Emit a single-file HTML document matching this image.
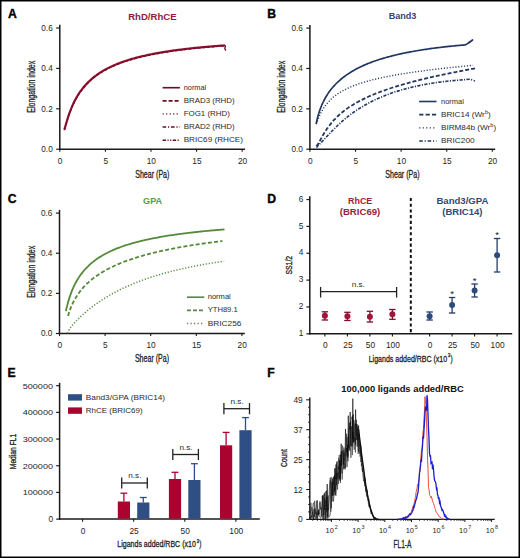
<!DOCTYPE html>
<html><head><meta charset="utf-8"><style>
html,body{margin:0;padding:0;background:#fff;}
body{width:520px;height:558px;overflow:hidden;}
svg{display:block;font-family:"Liberation Sans", sans-serif;}
</style></head><body>
<svg width="520" height="558" viewBox="0 0 520 558">
<rect x="0" y="0" width="520" height="558" fill="#000"/>
<rect x="1.5" y="1.5" width="517" height="555" fill="#fff"/>
<text x="7.9" y="17.8" font-size="12.2" font-weight="bold" fill="#000" stroke="#000" stroke-width="0.35">A</text>
<text x="152.4" y="19.7" font-size="9.6" text-anchor="middle" font-weight="bold" fill="#941a38" textLength="48.4" lengthAdjust="spacingAndGlyphs">RhD/RhCE</text>
<line x1="59.8" y1="24.8" x2="59.8" y2="149.9" stroke="#1a1a1a" stroke-width="1.5"/>
<line x1="59.1" y1="149.2" x2="245.1" y2="149.2" stroke="#1a1a1a" stroke-width="1.5"/>
<line x1="56.2" y1="149.2" x2="59.8" y2="149.2" stroke="#1a1a1a" stroke-width="1.2"/>
<text x="52.7" y="152.15" font-size="8.2" text-anchor="end" fill="#1e1e1e">0.0</text>
<line x1="56.2" y1="108.8" x2="59.8" y2="108.8" stroke="#1a1a1a" stroke-width="1.2"/>
<text x="52.7" y="111.75" font-size="8.2" text-anchor="end" fill="#1e1e1e">0.2</text>
<line x1="56.2" y1="68.4" x2="59.8" y2="68.4" stroke="#1a1a1a" stroke-width="1.2"/>
<text x="52.7" y="71.35" font-size="8.2" text-anchor="end" fill="#1e1e1e">0.4</text>
<line x1="56.2" y1="28" x2="59.8" y2="28" stroke="#1a1a1a" stroke-width="1.2"/>
<text x="52.7" y="30.95" font-size="8.2" text-anchor="end" fill="#1e1e1e">0.6</text>
<line x1="59.8" y1="149.2" x2="59.8" y2="151.8" stroke="#1a1a1a" stroke-width="1.1"/>
<text x="60.1" y="163.5" font-size="8.3" text-anchor="middle" fill="#1e1e1e">0</text>
<line x1="105.4" y1="149.2" x2="105.4" y2="151.8" stroke="#1a1a1a" stroke-width="1.1"/>
<text x="105.7" y="163.5" font-size="8.3" text-anchor="middle" fill="#1e1e1e">5</text>
<line x1="151" y1="149.2" x2="151" y2="151.8" stroke="#1a1a1a" stroke-width="1.1"/>
<text x="151.3" y="163.5" font-size="8.3" text-anchor="middle" fill="#1e1e1e">10</text>
<line x1="196.6" y1="149.2" x2="196.6" y2="151.8" stroke="#1a1a1a" stroke-width="1.1"/>
<text x="196.9" y="163.5" font-size="8.3" text-anchor="middle" fill="#1e1e1e">15</text>
<line x1="242.2" y1="149.2" x2="242.2" y2="151.8" stroke="#1a1a1a" stroke-width="1.1"/>
<text x="242.5" y="163.5" font-size="8.3" text-anchor="middle" fill="#1e1e1e">20</text>
<text x="135.2" y="177.9" font-size="10.1" stroke="#222" stroke-width="0.3" fill="#222" textLength="34.2" lengthAdjust="spacingAndGlyphs">Shear (Pa)</text>
<text transform="translate(35,112.7) rotate(-90)" font-size="10" stroke="#222" stroke-width="0.3" fill="#222" textLength="52" lengthAdjust="spacingAndGlyphs">Elongation index</text>
<path d="M64.5,129.15 C64.75,128.29 65.5,125.72 66,124.04 C66.5,122.35 67,120.63 67.5,119.04 C68,117.44 68.5,115.92 69,114.47 C69.5,113.03 70,111.66 70.5,110.36 C71,109.06 71.5,107.84 72,106.67 C72.5,105.5 73,104.39 73.5,103.34 C74,102.28 74.5,101.28 75,100.31 C75.5,99.35 76,98.44 76.5,97.56 C77,96.68 77.5,95.85 78,95.04 C78.5,94.23 79,93.46 79.5,92.72 C80,91.98 80.5,91.27 81,90.58 C81.5,89.89 82,89.23 82.5,88.59 C83,87.95 83.5,87.34 84,86.75 C84.5,86.15 85,85.58 85.5,85.02 C86,84.47 86.5,83.93 87,83.41 C87.5,82.89 88,82.38 88.5,81.89 C89,81.4 89.5,80.93 90,80.47 C90.5,80.01 91,79.56 91.5,79.13 C92,78.69 92.5,78.27 93,77.86 C93.5,77.45 94,77.05 94.5,76.66 C95,76.27 95.5,75.89 96,75.52 C96.5,75.15 97,74.79 97.5,74.43 C98,74.08 98.5,73.74 99,73.41 C99.5,73.07 100,72.74 100.5,72.42 C101,72.11 101.5,71.79 102,71.49 C102.5,71.18 103,70.89 103.5,70.6 C104,70.31 104.5,70.02 105,69.74 C105.5,69.46 106,69.19 106.5,68.92 C107,68.66 107.5,68.4 108,68.14 C108.5,67.89 109,67.64 109.5,67.39 C110,67.14 110.5,66.9 111,66.67 C111.5,66.43 112,66.2 112.5,65.97 C113,65.75 113.5,65.53 114,65.31 C114.5,65.09 115,64.88 115.5,64.67 C116,64.46 116.5,64.25 117,64.05 C117.5,63.84 118,63.65 118.5,63.45 C119,63.26 119.5,63.06 120,62.88 C120.5,62.69 121,62.5 121.5,62.32 C122,62.14 122.5,61.96 123,61.78 C123.5,61.61 124,61.43 124.5,61.26 C125,61.09 125.5,60.93 126,60.76 C126.5,60.6 127,60.44 127.5,60.28 C128,60.12 128.5,59.96 129,59.81 C129.5,59.65 130,59.5 130.5,59.35 C131,59.2 131.5,59.06 132,58.91 C132.5,58.77 133,58.63 133.5,58.49 C134,58.35 134.5,58.21 135,58.07 C135.5,57.93 136,57.8 136.5,57.67 C137,57.54 137.5,57.41 138,57.28 C138.5,57.15 139,57.02 139.5,56.9 C140,56.77 140.5,56.65 141,56.53 C141.5,56.41 142,56.29 142.5,56.17 C143,56.05 143.5,55.94 144,55.82 C144.5,55.71 145,55.6 145.5,55.48 C146,55.37 146.5,55.26 147,55.16 C147.5,55.05 148,54.94 148.5,54.83 C149,54.73 149.5,54.62 150,54.52 C150.5,54.42 151,54.32 151.5,54.22 C152,54.12 152.5,54.02 153,53.92 C153.5,53.82 154,53.73 154.5,53.63 C155,53.54 155.5,53.44 156,53.35 C156.5,53.26 157,53.17 157.5,53.08 C158,52.99 158.5,52.9 159,52.81 C159.5,52.72 160,52.63 160.5,52.55 C161,52.46 161.5,52.38 162,52.29 C162.5,52.21 163,52.13 163.5,52.04 C164,51.96 164.5,51.88 165,51.8 C165.5,51.72 166,51.64 166.5,51.56 C167,51.49 167.5,51.41 168,51.33 C168.5,51.26 169,51.18 169.5,51.11 C170,51.03 170.5,50.96 171,50.89 C171.5,50.81 172,50.74 172.5,50.67 C173,50.6 173.5,50.53 174,50.46 C174.5,50.39 175,50.32 175.5,50.25 C176,50.18 176.5,50.12 177,50.05 C177.5,49.98 178,49.92 178.5,49.85 C179,49.79 179.5,49.72 180,49.66 C180.5,49.6 181,49.53 181.5,49.47 C182,49.41 182.5,49.35 183,49.29 C183.5,49.22 184,49.16 184.5,49.1 C185,49.05 185.5,48.99 186,48.93 C186.5,48.87 187,48.81 187.5,48.75 C188,48.7 188.5,48.64 189,48.58 C189.5,48.53 190,48.47 190.5,48.42 C191,48.36 191.5,48.31 192,48.26 C192.5,48.2 193,48.15 193.5,48.1 C194,48.04 194.5,47.99 195,47.94 C195.5,47.89 196,47.84 196.5,47.79 C197,47.74 197.5,47.69 198,47.64 C198.5,47.59 199,47.54 199.5,47.49 C200,47.44 200.5,47.39 201,47.35 C201.5,47.3 202,47.25 202.5,47.2 C203,47.16 203.5,47.11 204,47.07 C204.5,47.02 205,46.98 205.5,46.93 C206,46.89 206.5,46.84 207,46.8 C207.5,46.75 208,46.71 208.5,46.67 C209,46.62 209.5,46.58 210,46.54 C210.5,46.5 211,46.45 211.5,46.41 C212,46.37 212.5,46.33 213,46.29 C213.5,46.25 214,46.21 214.5,46.17 C215,46.13 215.5,46.09 216,46.05 C216.5,46.01 217,45.97 217.5,45.93 C218,45.9 218.5,45.86 219,45.82 C219.5,45.78 220,45.74 220.5,45.71 C221,45.67 221.5,45.63 222,45.6 C222.5,45.56 223.2,45.51 223.5,45.49 C223.8,45.47 223.75,45.47 223.8,45.47" fill="none" stroke="#8f0f2f" stroke-width="2.2" stroke-linecap="round"/>
<path d="M64.5,129.65 C64.75,128.79 65.5,126.22 66,124.54 C66.5,122.85 67,121.13 67.5,119.54 C68,117.94 68.5,116.42 69,114.97 C69.5,113.53 70,112.16 70.5,110.86 C71,109.56 71.5,108.34 72,107.17 C72.5,106 73,104.89 73.5,103.84 C74,102.78 74.5,101.78 75,100.81 C75.5,99.85 76,98.94 76.5,98.06 C77,97.18 77.5,96.35 78,95.54 C78.5,94.73 79,93.96 79.5,93.22 C80,92.48 80.5,91.77 81,91.08 C81.5,90.39 82,89.73 82.5,89.09 C83,88.45 83.5,87.84 84,87.25 C84.5,86.65 85,86.08 85.5,85.52 C86,84.97 86.5,84.43 87,83.91 C87.5,83.39 88,82.88 88.5,82.39 C89,81.9 89.5,81.43 90,80.97 C90.5,80.51 91,80.06 91.5,79.63 C92,79.19 92.5,78.77 93,78.36 C93.5,77.95 94,77.55 94.5,77.16 C95,76.77 95.5,76.39 96,76.02 C96.5,75.65 97,75.29 97.5,74.93 C98,74.58 98.5,74.24 99,73.91 C99.5,73.57 100,73.24 100.5,72.92 C101,72.61 101.5,72.29 102,71.99 C102.5,71.68 103,71.39 103.5,71.1 C104,70.81 104.5,70.52 105,70.24 C105.5,69.96 106,69.69 106.5,69.42 C107,69.16 107.5,68.9 108,68.64 C108.5,68.39 109,68.14 109.5,67.89 C110,67.64 110.5,67.4 111,67.17 C111.5,66.93 112,66.7 112.5,66.47 C113,66.25 113.5,66.03 114,65.81 C114.5,65.59 115,65.38 115.5,65.17 C116,64.96 116.5,64.75 117,64.55 C117.5,64.34 118,64.15 118.5,63.95 C119,63.76 119.5,63.56 120,63.38 C120.5,63.19 121,63 121.5,62.82 C122,62.64 122.5,62.46 123,62.28 C123.5,62.11 124,61.93 124.5,61.76 C125,61.59 125.5,61.43 126,61.26 C126.5,61.1 127,60.94 127.5,60.78 C128,60.62 128.5,60.46 129,60.31 C129.5,60.15 130,60 130.5,59.85 C131,59.7 131.5,59.56 132,59.41 C132.5,59.27 133,59.13 133.5,58.99 C134,58.85 134.5,58.71 135,58.57 C135.5,58.43 136,58.3 136.5,58.17 C137,58.04 137.5,57.91 138,57.78 C138.5,57.65 139,57.52 139.5,57.4 C140,57.27 140.5,57.15 141,57.03 C141.5,56.91 142,56.79 142.5,56.67 C143,56.55 143.5,56.44 144,56.32 C144.5,56.21 145,56.1 145.5,55.98 C146,55.87 146.5,55.76 147,55.66 C147.5,55.55 148,55.44 148.5,55.33 C149,55.23 149.5,55.12 150,55.02 C150.5,54.92 151,54.82 151.5,54.72 C152,54.62 152.5,54.52 153,54.42 C153.5,54.32 154,54.23 154.5,54.13 C155,54.04 155.5,53.94 156,53.85 C156.5,53.76 157,53.67 157.5,53.58 C158,53.49 158.5,53.4 159,53.31 C159.5,53.22 160,53.13 160.5,53.05 C161,52.96 161.5,52.88 162,52.79 C162.5,52.71 163,52.63 163.5,52.54 C164,52.46 164.5,52.38 165,52.3 C165.5,52.22 166,52.14 166.5,52.06 C167,51.99 167.5,51.91 168,51.83 C168.5,51.76 169,51.68 169.5,51.61 C170,51.53 170.5,51.46 171,51.39 C171.5,51.31 172,51.24 172.5,51.17 C173,51.1 173.5,51.03 174,50.96 C174.5,50.89 175,50.82 175.5,50.75 C176,50.68 176.5,50.62 177,50.55 C177.5,50.48 178,50.42 178.5,50.35 C179,50.29 179.5,50.22 180,50.16 C180.5,50.1 181,50.03 181.5,49.97 C182,49.91 182.5,49.85 183,49.79 C183.5,49.72 184,49.66 184.5,49.6 C185,49.55 185.5,49.49 186,49.43 C186.5,49.37 187,49.31 187.5,49.25 C188,49.2 188.5,49.14 189,49.08 C189.5,49.03 190,48.97 190.5,48.92 C191,48.86 191.5,48.81 192,48.76 C192.5,48.7 193,48.65 193.5,48.6 C194,48.54 194.5,48.49 195,48.44 C195.5,48.39 196,48.34 196.5,48.29 C197,48.24 197.5,48.19 198,48.14 C198.5,48.09 199,48.04 199.5,47.99 C200,47.94 200.5,47.89 201,47.85 C201.5,47.8 202,47.75 202.5,47.7 C203,47.66 203.5,47.61 204,47.57 C204.5,47.52 205,47.48 205.5,47.43 C206,47.39 206.5,47.34 207,47.3 C207.5,47.25 208,47.21 208.5,47.17 C209,47.12 209.5,47.08 210,47.04 C210.5,47 211,46.95 211.5,46.91 C212,46.87 212.5,46.83 213,46.79 C213.5,46.75 214,46.71 214.5,46.67 C215,46.63 215.5,46.59 216,46.55 C216.5,46.51 217,46.47 217.5,46.43 C218,46.4 218.5,46.36 219,46.32 C219.5,46.28 220,46.24 220.5,46.21 C221,46.17 221.5,46.13 222,46.1 C222.5,46.06 223.2,46.01 223.5,45.99 C223.8,45.97 223.75,45.97 223.8,45.97" fill="none" stroke="#7a0c28" stroke-width="1.3" stroke-dasharray="3,1.6"/>
<path d="M223.8,45.2 L225.4,46 L224.8,48.5 L225.8,50.6" fill="none" stroke="#6a0a22" stroke-width="1.3"/>
<path d="M162.6,87.7 H179.9" fill="none" stroke="#6a0c24" stroke-width="1.6"/>
<text x="183.7" y="89.7" font-size="8" fill="#2a2a2a" textLength="22.5" lengthAdjust="spacingAndGlyphs">normal</text>
<path d="M162.6,100.83 H179.9" fill="none" stroke="#6a0c24" stroke-width="1.6" stroke-dasharray="4,2"/>
<text x="183.7" y="102.83" font-size="8" fill="#2a2a2a" textLength="51" lengthAdjust="spacingAndGlyphs">BRAD3 (RHD)</text>
<path d="M162.6,113.96 H179.9" fill="none" stroke="#6a0c24" stroke-width="1.3" stroke-dasharray="1.2,2.3"/>
<text x="183.7" y="115.96" font-size="8" fill="#2a2a2a" textLength="46.2" lengthAdjust="spacingAndGlyphs">FOG1 (RHD)</text>
<path d="M162.6,127.09 H179.9" fill="none" stroke="#6a0c24" stroke-width="1.5" stroke-dasharray="3.6,1.8,1.2,1.8"/>
<text x="183.7" y="129.09" font-size="8" fill="#2a2a2a" textLength="51" lengthAdjust="spacingAndGlyphs">BRAD2 (RHD)</text>
<path d="M162.6,140.22 H179.9" fill="none" stroke="#6a0c24" stroke-width="1.5" stroke-dasharray="3.4,1.5,1.1,1.5,1.1,1.5"/>
<text x="183.7" y="142.22" font-size="8" fill="#2a2a2a" textLength="59.2" lengthAdjust="spacingAndGlyphs">BRIC69 (RHCE)</text>
<text x="267.3" y="17.8" font-size="12.2" font-weight="bold" fill="#000" stroke="#000" stroke-width="0.35">B</text>
<text x="402.6" y="19.1" font-size="9.1" text-anchor="middle" font-weight="bold" fill="#2f4570" textLength="27.6" lengthAdjust="spacingAndGlyphs">Band3</text>
<line x1="309.9" y1="24.9" x2="309.9" y2="149.9" stroke="#1a1a1a" stroke-width="1.5"/>
<line x1="309.2" y1="149.2" x2="495.2" y2="149.2" stroke="#1a1a1a" stroke-width="1.5"/>
<line x1="306.3" y1="149.2" x2="309.9" y2="149.2" stroke="#1a1a1a" stroke-width="1.2"/>
<text x="302.8" y="152.15" font-size="8.2" text-anchor="end" fill="#1e1e1e">0.0</text>
<line x1="306.3" y1="108.83" x2="309.9" y2="108.83" stroke="#1a1a1a" stroke-width="1.2"/>
<text x="302.8" y="111.78" font-size="8.2" text-anchor="end" fill="#1e1e1e">0.2</text>
<line x1="306.3" y1="68.47" x2="309.9" y2="68.47" stroke="#1a1a1a" stroke-width="1.2"/>
<text x="302.8" y="71.42" font-size="8.2" text-anchor="end" fill="#1e1e1e">0.4</text>
<line x1="306.3" y1="28.1" x2="309.9" y2="28.1" stroke="#1a1a1a" stroke-width="1.2"/>
<text x="302.8" y="31.05" font-size="8.2" text-anchor="end" fill="#1e1e1e">0.6</text>
<line x1="309.9" y1="149.2" x2="309.9" y2="151.8" stroke="#1a1a1a" stroke-width="1.1"/>
<text x="310.2" y="163.5" font-size="8.3" text-anchor="middle" fill="#1e1e1e">0</text>
<line x1="355.5" y1="149.2" x2="355.5" y2="151.8" stroke="#1a1a1a" stroke-width="1.1"/>
<text x="355.8" y="163.5" font-size="8.3" text-anchor="middle" fill="#1e1e1e">5</text>
<line x1="401.1" y1="149.2" x2="401.1" y2="151.8" stroke="#1a1a1a" stroke-width="1.1"/>
<text x="401.4" y="163.5" font-size="8.3" text-anchor="middle" fill="#1e1e1e">10</text>
<line x1="446.7" y1="149.2" x2="446.7" y2="151.8" stroke="#1a1a1a" stroke-width="1.1"/>
<text x="447" y="163.5" font-size="8.3" text-anchor="middle" fill="#1e1e1e">15</text>
<line x1="492.3" y1="149.2" x2="492.3" y2="151.8" stroke="#1a1a1a" stroke-width="1.1"/>
<text x="492.6" y="163.5" font-size="8.3" text-anchor="middle" fill="#1e1e1e">20</text>
<text x="385.3" y="177.9" font-size="10.1" stroke="#222" stroke-width="0.3" fill="#222" textLength="34.2" lengthAdjust="spacingAndGlyphs">Shear (Pa)</text>
<text transform="translate(285.1,112.7) rotate(-90)" font-size="10" stroke="#222" stroke-width="0.3" fill="#222" textLength="52" lengthAdjust="spacingAndGlyphs">Elongation index</text>
<path d="M316.3,123.24 C316.55,122.15 317.3,118.67 317.8,116.74 C318.3,114.82 318.8,113.22 319.3,111.68 C319.8,110.14 320.3,108.78 320.8,107.49 C321.3,106.19 321.8,105.02 322.3,103.9 C322.8,102.78 323.3,101.75 323.8,100.76 C324.3,99.77 324.8,98.85 325.3,97.96 C325.8,97.07 326.3,96.24 326.8,95.43 C327.3,94.63 327.8,93.87 328.3,93.13 C328.8,92.4 329.3,91.7 329.8,91.02 C330.3,90.35 330.8,89.7 331.3,89.07 C331.8,88.45 332.3,87.85 332.8,87.26 C333.3,86.68 333.8,86.12 334.3,85.58 C334.8,85.03 335.3,84.51 335.8,83.99 C336.3,83.48 336.8,82.99 337.3,82.51 C337.8,82.03 338.3,81.56 338.8,81.11 C339.3,80.65 339.8,80.21 340.3,79.78 C340.8,79.35 341.3,78.94 341.8,78.53 C342.3,78.12 342.8,77.72 343.3,77.34 C343.8,76.95 344.3,76.57 344.8,76.2 C345.3,75.83 345.8,75.47 346.3,75.12 C346.8,74.77 347.3,74.43 347.8,74.09 C348.3,73.75 348.8,73.43 349.3,73.1 C349.8,72.78 350.3,72.47 350.8,72.16 C351.3,71.85 351.8,71.55 352.3,71.25 C352.8,70.96 353.3,70.67 353.8,70.39 C354.3,70.1 354.8,69.82 355.3,69.55 C355.8,69.28 356.3,69.01 356.8,68.75 C357.3,68.48 357.8,68.23 358.3,67.97 C358.8,67.72 359.3,67.47 359.8,67.23 C360.3,66.99 360.8,66.75 361.3,66.51 C361.8,66.28 362.3,66.05 362.8,65.82 C363.3,65.59 363.8,65.37 364.3,65.15 C364.8,64.93 365.3,64.71 365.8,64.5 C366.3,64.29 366.8,64.08 367.3,63.88 C367.8,63.67 368.3,63.47 368.8,63.27 C369.3,63.07 369.8,62.88 370.3,62.69 C370.8,62.49 371.3,62.3 371.8,62.12 C372.3,61.93 372.8,61.75 373.3,61.57 C373.8,61.39 374.3,61.21 374.8,61.03 C375.3,60.86 375.8,60.69 376.3,60.52 C376.8,60.35 377.3,60.18 377.8,60.01 C378.3,59.85 378.8,59.68 379.3,59.52 C379.8,59.36 380.3,59.21 380.8,59.05 C381.3,58.89 381.8,58.74 382.3,58.59 C382.8,58.44 383.3,58.29 383.8,58.14 C384.3,57.99 384.8,57.85 385.3,57.71 C385.8,57.56 386.3,57.42 386.8,57.28 C387.3,57.14 387.8,57.01 388.3,56.87 C388.8,56.73 389.3,56.6 389.8,56.47 C390.3,56.34 390.8,56.21 391.3,56.08 C391.8,55.95 392.3,55.82 392.8,55.7 C393.3,55.57 393.8,55.45 394.3,55.32 C394.8,55.2 395.3,55.08 395.8,54.96 C396.3,54.84 396.8,54.73 397.3,54.61 C397.8,54.49 398.3,54.38 398.8,54.27 C399.3,54.15 399.8,54.04 400.3,53.93 C400.8,53.82 401.3,53.71 401.8,53.6 C402.3,53.5 402.8,53.39 403.3,53.29 C403.8,53.18 404.3,53.08 404.8,52.97 C405.3,52.87 405.8,52.77 406.3,52.67 C406.8,52.57 407.3,52.47 407.8,52.37 C408.3,52.28 408.8,52.18 409.3,52.08 C409.8,51.99 410.3,51.89 410.8,51.8 C411.3,51.71 411.8,51.62 412.3,51.53 C412.8,51.43 413.3,51.34 413.8,51.26 C414.3,51.17 414.8,51.08 415.3,50.99 C415.8,50.91 416.3,50.82 416.8,50.73 C417.3,50.65 417.8,50.57 418.3,50.48 C418.8,50.4 419.3,50.32 419.8,50.24 C420.3,50.16 420.8,50.08 421.3,50 C421.8,49.92 422.3,49.84 422.8,49.76 C423.3,49.68 423.8,49.61 424.3,49.53 C424.8,49.46 425.3,49.38 425.8,49.31 C426.3,49.23 426.8,49.16 427.3,49.09 C427.8,49.02 428.3,48.94 428.8,48.87 C429.3,48.8 429.8,48.73 430.3,48.66 C430.8,48.59 431.3,48.53 431.8,48.46 C432.3,48.39 432.8,48.32 433.3,48.26 C433.8,48.19 434.3,48.12 434.8,48.06 C435.3,48 435.8,47.93 436.3,47.87 C436.8,47.8 437.3,47.74 437.8,47.68 C438.3,47.62 438.8,47.56 439.3,47.5 C439.8,47.43 440.3,47.37 440.8,47.32 C441.3,47.26 441.8,47.2 442.3,47.14 C442.8,47.08 443.3,47.02 443.8,46.97 C444.3,46.91 444.8,46.85 445.3,46.8 C445.8,46.74 446.3,46.69 446.8,46.63 C447.3,46.58 447.8,46.52 448.3,46.47 C448.8,46.42 449.3,46.36 449.8,46.31 C450.3,46.26 450.8,46.21 451.3,46.16 C451.8,46.11 452.3,46.06 452.8,46.01 C453.3,45.96 453.8,45.91 454.3,45.86 C454.8,45.81 455.3,45.76 455.8,45.71 C456.3,45.66 456.8,45.62 457.3,45.57 C457.8,45.52 458.3,45.48 458.8,45.43 C459.3,45.38 459.8,45.34 460.3,45.29 C460.8,45.25 461.3,45.2 461.8,45.16 C462.3,45.12 462.8,45.07 463.3,45.03 C463.8,44.99 464.52,44.93 464.8,44.9 C465.08,44.88 464.55,45.1 465,44.89 C465.45,44.67 466.25,44.41 467.5,43.6 C468.75,42.79 471.67,40.6 472.5,40" fill="none" stroke="#213660" stroke-width="1.7" stroke-linecap="round"/>
<path d="M316.3,124.2 C316.55,123.51 317.3,121.34 317.8,120.03 C318.3,118.72 318.8,117.48 319.3,116.34 C319.8,115.19 320.3,114.13 320.8,113.13 C321.3,112.13 321.8,111.22 322.3,110.34 C322.8,109.47 323.3,108.66 323.8,107.89 C324.3,107.12 324.8,106.41 325.3,105.72 C325.8,105.03 326.3,104.39 326.8,103.77 C327.3,103.16 327.8,102.58 328.3,102.02 C328.8,101.46 329.3,100.93 329.8,100.42 C330.3,99.91 330.8,99.43 331.3,98.96 C331.8,98.5 332.3,98.05 332.8,97.62 C333.3,97.19 333.8,96.78 334.3,96.38 C334.8,95.99 335.3,95.6 335.8,95.23 C336.3,94.86 336.8,94.51 337.3,94.16 C337.8,93.81 338.3,93.48 338.8,93.16 C339.3,92.83 339.8,92.52 340.3,92.22 C340.8,91.91 341.3,91.62 341.8,91.33 C342.3,91.04 342.8,90.76 343.3,90.49 C343.8,90.22 344.3,89.96 344.8,89.7 C345.3,89.44 345.8,89.19 346.3,88.95 C346.8,88.71 347.3,88.47 347.8,88.24 C348.3,88 348.8,87.78 349.3,87.56 C349.8,87.33 350.3,87.12 350.8,86.91 C351.3,86.69 351.8,86.49 352.3,86.29 C352.8,86.08 353.3,85.89 353.8,85.69 C354.3,85.5 354.8,85.31 355.3,85.12 C355.8,84.93 356.3,84.75 356.8,84.57 C357.3,84.39 357.8,84.22 358.3,84.05 C358.8,83.87 359.3,83.71 359.8,83.54 C360.3,83.37 360.8,83.21 361.3,83.05 C361.8,82.89 362.3,82.73 362.8,82.58 C363.3,82.42 363.8,82.27 364.3,82.12 C364.8,81.97 365.3,81.82 365.8,81.68 C366.3,81.53 366.8,81.39 367.3,81.25 C367.8,81.11 368.3,80.97 368.8,80.84 C369.3,80.7 369.8,80.57 370.3,80.43 C370.8,80.3 371.3,80.17 371.8,80.04 C372.3,79.92 372.8,79.79 373.3,79.66 C373.8,79.54 374.3,79.42 374.8,79.3 C375.3,79.17 375.8,79.05 376.3,78.94 C376.8,78.82 377.3,78.7 377.8,78.59 C378.3,78.47 378.8,78.36 379.3,78.25 C379.8,78.13 380.3,78.02 380.8,77.91 C381.3,77.8 381.8,77.69 382.3,77.59 C382.8,77.48 383.3,77.38 383.8,77.27 C384.3,77.17 384.8,77.06 385.3,76.96 C385.8,76.86 386.3,76.76 386.8,76.66 C387.3,76.56 387.8,76.46 388.3,76.36 C388.8,76.26 389.3,76.17 389.8,76.07 C390.3,75.98 390.8,75.88 391.3,75.79 C391.8,75.69 392.3,75.6 392.8,75.51 C393.3,75.42 393.8,75.33 394.3,75.24 C394.8,75.15 395.3,75.06 395.8,74.97 C396.3,74.88 396.8,74.79 397.3,74.71 C397.8,74.62 398.3,74.54 398.8,74.45 C399.3,74.37 399.8,74.28 400.3,74.2 C400.8,74.12 401.3,74.03 401.8,73.95 C402.3,73.87 402.8,73.79 403.3,73.71 C403.8,73.63 404.3,73.55 404.8,73.47 C405.3,73.39 405.8,73.31 406.3,73.23 C406.8,73.15 407.3,73.08 407.8,73 C408.3,72.92 408.8,72.85 409.3,72.77 C409.8,72.7 410.3,72.62 410.8,72.55 C411.3,72.47 411.8,72.4 412.3,72.33 C412.8,72.25 413.3,72.18 413.8,72.11 C414.3,72.04 414.8,71.97 415.3,71.89 C415.8,71.82 416.3,71.75 416.8,71.68 C417.3,71.61 417.8,71.54 418.3,71.48 C418.8,71.41 419.3,71.34 419.8,71.27 C420.3,71.2 420.8,71.13 421.3,71.07 C421.8,71 422.3,70.93 422.8,70.87 C423.3,70.8 423.8,70.74 424.3,70.67 C424.8,70.61 425.3,70.54 425.8,70.48 C426.3,70.41 426.8,70.35 427.3,70.28 C427.8,70.22 428.3,70.16 428.8,70.09 C429.3,70.03 429.8,69.97 430.3,69.91 C430.8,69.84 431.3,69.78 431.8,69.72 C432.3,69.66 432.8,69.6 433.3,69.54 C433.8,69.48 434.3,69.42 434.8,69.36 C435.3,69.3 435.8,69.24 436.3,69.18 C436.8,69.12 437.3,69.06 437.8,69 C438.3,68.94 438.8,68.89 439.3,68.83 C439.8,68.77 440.3,68.71 440.8,68.66 C441.3,68.6 441.8,68.54 442.3,68.48 C442.8,68.43 443.3,68.37 443.8,68.32 C444.3,68.26 444.8,68.2 445.3,68.15 C445.8,68.09 446.3,68.04 446.8,67.98 C447.3,67.93 447.8,67.87 448.3,67.82 C448.8,67.76 449.3,67.71 449.8,67.66 C450.3,67.6 450.8,67.55 451.3,67.5 C451.8,67.44 452.3,67.39 452.8,67.34 C453.3,67.28 453.8,67.23 454.3,67.18 C454.8,67.13 455.3,67.07 455.8,67.02 C456.3,66.97 456.8,66.92 457.3,66.87 C457.8,66.82 458.3,66.76 458.8,66.71 C459.3,66.66 459.8,66.61 460.3,66.56 C460.8,66.51 461.3,66.46 461.8,66.41 C462.3,66.36 462.8,66.31 463.3,66.26 C463.8,66.21 464.3,66.16 464.8,66.11 C465.3,66.06 465.8,66.02 466.3,65.97 C466.8,65.92 467.3,65.87 467.8,65.82 C468.3,65.77 468.8,65.72 469.3,65.68 C469.8,65.63 470.3,65.58 470.8,65.53 C471.3,65.48 471.92,65.43 472.3,65.39 C472.68,65.35 472.97,65.33 473.1,65.31" fill="none" stroke="#213660" stroke-width="1.4" stroke-dasharray="1.1,1.8"/>
<path d="M316.3,146.02 C316.55,145.76 317.3,145.18 317.8,144.49 C318.3,143.81 318.8,142.8 319.3,141.9 C319.8,141.01 320.3,140.03 320.8,139.11 C321.3,138.19 321.8,137.26 322.3,136.37 C322.8,135.48 323.3,134.61 323.8,133.77 C324.3,132.93 324.8,132.11 325.3,131.33 C325.8,130.54 326.3,129.79 326.8,129.05 C327.3,128.32 327.8,127.61 328.3,126.93 C328.8,126.24 329.3,125.58 329.8,124.94 C330.3,124.3 330.8,123.68 331.3,123.08 C331.8,122.47 332.3,121.89 332.8,121.33 C333.3,120.76 333.8,120.21 334.3,119.68 C334.8,119.15 335.3,118.63 335.8,118.13 C336.3,117.62 336.8,117.13 337.3,116.65 C337.8,116.17 338.3,115.71 338.8,115.26 C339.3,114.8 339.8,114.36 340.3,113.93 C340.8,113.5 341.3,113.08 341.8,112.66 C342.3,112.25 342.8,111.85 343.3,111.46 C343.8,111.06 344.3,110.68 344.8,110.3 C345.3,109.92 345.8,109.55 346.3,109.19 C346.8,108.83 347.3,108.48 347.8,108.13 C348.3,107.78 348.8,107.44 349.3,107.11 C349.8,106.78 350.3,106.45 350.8,106.13 C351.3,105.8 351.8,105.49 352.3,105.18 C352.8,104.87 353.3,104.56 353.8,104.26 C354.3,103.97 354.8,103.67 355.3,103.38 C355.8,103.09 356.3,102.81 356.8,102.53 C357.3,102.25 357.8,101.97 358.3,101.7 C358.8,101.43 359.3,101.16 359.8,100.9 C360.3,100.63 360.8,100.37 361.3,100.12 C361.8,99.86 362.3,99.61 362.8,99.36 C363.3,99.11 363.8,98.87 364.3,98.63 C364.8,98.39 365.3,98.15 365.8,97.91 C366.3,97.68 366.8,97.45 367.3,97.22 C367.8,96.99 368.3,96.76 368.8,96.54 C369.3,96.31 369.8,96.09 370.3,95.88 C370.8,95.66 371.3,95.44 371.8,95.23 C372.3,95.02 372.8,94.81 373.3,94.6 C373.8,94.39 374.3,94.19 374.8,93.98 C375.3,93.78 375.8,93.58 376.3,93.38 C376.8,93.18 377.3,92.99 377.8,92.79 C378.3,92.6 378.8,92.41 379.3,92.22 C379.8,92.03 380.3,91.84 380.8,91.65 C381.3,91.47 381.8,91.28 382.3,91.1 C382.8,90.92 383.3,90.74 383.8,90.56 C384.3,90.38 384.8,90.2 385.3,90.03 C385.8,89.85 386.3,89.68 386.8,89.5 C387.3,89.33 387.8,89.16 388.3,88.99 C388.8,88.82 389.3,88.65 389.8,88.49 C390.3,88.32 390.8,88.16 391.3,87.99 C391.8,87.83 392.3,87.67 392.8,87.51 C393.3,87.35 393.8,87.19 394.3,87.03 C394.8,86.87 395.3,86.72 395.8,86.56 C396.3,86.41 396.8,86.25 397.3,86.1 C397.8,85.95 398.3,85.8 398.8,85.65 C399.3,85.49 399.8,85.35 400.3,85.2 C400.8,85.05 401.3,84.9 401.8,84.76 C402.3,84.61 402.8,84.47 403.3,84.32 C403.8,84.18 404.3,84.04 404.8,83.89 C405.3,83.75 405.8,83.61 406.3,83.47 C406.8,83.33 407.3,83.19 407.8,83.06 C408.3,82.92 408.8,82.78 409.3,82.65 C409.8,82.51 410.3,82.38 410.8,82.24 C411.3,82.11 411.8,81.97 412.3,81.84 C412.8,81.71 413.3,81.58 413.8,81.45 C414.3,81.32 414.8,81.19 415.3,81.06 C415.8,80.93 416.3,80.8 416.8,80.67 C417.3,80.55 417.8,80.42 418.3,80.29 C418.8,80.17 419.3,80.04 419.8,79.92 C420.3,79.8 420.8,79.67 421.3,79.55 C421.8,79.43 422.3,79.3 422.8,79.18 C423.3,79.06 423.8,78.94 424.3,78.82 C424.8,78.7 425.3,78.58 425.8,78.46 C426.3,78.34 426.8,78.23 427.3,78.11 C427.8,77.99 428.3,77.87 428.8,77.76 C429.3,77.64 429.8,77.53 430.3,77.41 C430.8,77.3 431.3,77.18 431.8,77.07 C432.3,76.96 432.8,76.84 433.3,76.73 C433.8,76.62 434.3,76.51 434.8,76.39 C435.3,76.28 435.8,76.17 436.3,76.06 C436.8,75.95 437.3,75.84 437.8,75.73 C438.3,75.62 438.8,75.51 439.3,75.41 C439.8,75.3 440.3,75.19 440.8,75.08 C441.3,74.98 441.8,74.87 442.3,74.76 C442.8,74.66 443.3,74.55 443.8,74.45 C444.3,74.34 444.8,74.24 445.3,74.13 C445.8,74.03 446.3,73.92 446.8,73.82 C447.3,73.72 447.8,73.62 448.3,73.51 C448.8,73.41 449.3,73.31 449.8,73.21 C450.3,73.11 450.8,73 451.3,72.9 C451.8,72.8 452.3,72.7 452.8,72.6 C453.3,72.5 453.8,72.4 454.3,72.31 C454.8,72.21 455.3,72.11 455.8,72.01 C456.3,71.91 456.8,71.81 457.3,71.72 C457.8,71.62 458.3,71.52 458.8,71.43 C459.3,71.33 459.8,71.23 460.3,71.14 C460.8,71.04 461.3,70.95 461.8,70.85 C462.3,70.76 462.8,70.66 463.3,70.57 C463.8,70.47 464.3,70.38 464.8,70.29 C465.3,70.19 465.8,70.1 466.3,70.01 C466.8,69.91 467.3,69.82 467.8,69.73 C468.3,69.64 468.8,69.54 469.3,69.45 C469.8,69.36 470.3,69.27 470.8,69.18 C471.3,69.09 471.8,69 472.3,68.91 C472.8,68.82 473.35,68.72 473.8,68.64 C474.25,68.56 474.8,68.46 475,68.42" fill="none" stroke="#213660" stroke-width="1.8" stroke-dasharray="4,2"/>
<path d="M316.6,147.61 C316.85,147.27 317.6,146.15 318.1,145.55 C318.6,144.95 319.1,144.52 319.6,144.01 C320.1,143.51 320.6,143.04 321.1,142.54 C321.6,142.04 322.1,141.53 322.6,141.02 C323.1,140.51 323.6,139.99 324.1,139.46 C324.6,138.94 325.1,138.4 325.6,137.87 C326.1,137.34 326.6,136.8 327.1,136.27 C327.6,135.74 328.1,135.2 328.6,134.67 C329.1,134.14 329.6,133.61 330.1,133.08 C330.6,132.56 331.1,132.03 331.6,131.52 C332.1,131 332.6,130.48 333.1,129.97 C333.6,129.46 334.1,128.96 334.6,128.46 C335.1,127.96 335.6,127.47 336.1,126.98 C336.6,126.5 337.1,126.01 337.6,125.54 C338.1,125.06 338.6,124.59 339.1,124.13 C339.6,123.67 340.1,123.21 340.6,122.76 C341.1,122.31 341.6,121.86 342.1,121.42 C342.6,120.98 343.1,120.55 343.6,120.12 C344.1,119.69 344.6,119.27 345.1,118.86 C345.6,118.44 346.1,118.03 346.6,117.63 C347.1,117.22 347.6,116.82 348.1,116.43 C348.6,116.04 349.1,115.65 349.6,115.27 C350.1,114.89 350.6,114.51 351.1,114.14 C351.6,113.77 352.1,113.4 352.6,113.04 C353.1,112.68 353.6,112.33 354.1,111.98 C354.6,111.62 355.1,111.28 355.6,110.94 C356.1,110.6 356.6,110.26 357.1,109.93 C357.6,109.6 358.1,109.27 358.6,108.95 C359.1,108.63 359.6,108.31 360.1,108 C360.6,107.69 361.1,107.38 361.6,107.07 C362.1,106.77 362.6,106.47 363.1,106.17 C363.6,105.88 364.1,105.59 364.6,105.3 C365.1,105.01 365.6,104.73 366.1,104.45 C366.6,104.17 367.1,103.89 367.6,103.62 C368.1,103.35 368.6,103.08 369.1,102.82 C369.6,102.56 370.1,102.29 370.6,102.04 C371.1,101.78 371.6,101.53 372.1,101.28 C372.6,101.03 373.1,100.78 373.6,100.54 C374.1,100.3 374.6,100.06 375.1,99.82 C375.6,99.58 376.1,99.35 376.6,99.12 C377.1,98.89 377.6,98.66 378.1,98.44 C378.6,98.22 379.1,98 379.6,97.78 C380.1,97.56 380.6,97.35 381.1,97.14 C381.6,96.92 382.1,96.72 382.6,96.51 C383.1,96.3 383.6,96.1 384.1,95.9 C384.6,95.7 385.1,95.5 385.6,95.31 C386.1,95.11 386.6,94.92 387.1,94.73 C387.6,94.54 388.1,94.36 388.6,94.17 C389.1,93.99 389.6,93.81 390.1,93.63 C390.6,93.45 391.1,93.27 391.6,93.1 C392.1,92.92 392.6,92.75 393.1,92.58 C393.6,92.41 394.1,92.24 394.6,92.08 C395.1,91.91 395.6,91.75 396.1,91.59 C396.6,91.43 397.1,91.27 397.6,91.12 C398.1,90.96 398.6,90.81 399.1,90.65 C399.6,90.5 400.1,90.35 400.6,90.21 C401.1,90.06 401.6,89.91 402.1,89.77 C402.6,89.63 403.1,89.48 403.6,89.34 C404.1,89.21 404.6,89.07 405.1,88.93 C405.6,88.8 406.1,88.66 406.6,88.53 C407.1,88.4 407.6,88.27 408.1,88.14 C408.6,88.01 409.1,87.89 409.6,87.76 C410.1,87.64 410.6,87.52 411.1,87.39 C411.6,87.27 412.1,87.15 412.6,87.04 C413.1,86.92 413.6,86.8 414.1,86.69 C414.6,86.57 415.1,86.46 415.6,86.35 C416.1,86.24 416.6,86.13 417.1,86.02 C417.6,85.92 418.1,85.81 418.6,85.71 C419.1,85.6 419.6,85.5 420.1,85.4 C420.6,85.3 421.1,85.2 421.6,85.1 C422.1,85 422.6,84.9 423.1,84.81 C423.6,84.71 424.1,84.62 424.6,84.52 C425.1,84.43 425.6,84.34 426.1,84.25 C426.6,84.16 427.1,84.07 427.6,83.99 C428.1,83.9 428.6,83.81 429.1,83.73 C429.6,83.64 430.1,83.56 430.6,83.48 C431.1,83.4 431.6,83.32 432.1,83.24 C432.6,83.16 433.1,83.08 433.6,83.01 C434.1,82.93 434.6,82.85 435.1,82.78 C435.6,82.71 436.1,82.63 436.6,82.56 C437.1,82.49 437.6,82.42 438.1,82.35 C438.6,82.28 439.1,82.21 439.6,82.15 C440.1,82.08 440.6,82.01 441.1,81.95 C441.6,81.88 442.1,81.82 442.6,81.76 C443.1,81.7 443.6,81.63 444.1,81.57 C444.6,81.51 445.1,81.45 445.6,81.4 C446.1,81.34 446.6,81.28 447.1,81.23 C447.6,81.17 448.1,81.11 448.6,81.06 C449.1,81.01 449.6,80.95 450.1,80.9 C450.6,80.85 451.1,80.8 451.6,80.75 C452.1,80.7 452.6,80.65 453.1,80.6 C453.6,80.56 454.1,80.51 454.6,80.46 C455.1,80.42 455.6,80.37 456.1,80.33 C456.6,80.28 457.1,80.24 457.6,80.2 C458.1,80.16 458.6,80.12 459.1,80.08 C459.6,80.04 460.1,80 460.6,79.96 C461.1,79.92 461.6,79.88 462.1,79.84 C462.6,79.81 463.12,79.77 463.6,79.74 C464.08,79.7 463.93,79.71 465,79.64 C466.07,79.57 468.33,79.07 470,79.3 C471.67,79.53 474.17,80.72 475,81" fill="none" stroke="#213660" stroke-width="1.6" stroke-dasharray="3.2,1.4,1.1,1.4"/>
<path d="M419.2,101.5 H436.5" fill="none" stroke="#213660" stroke-width="1.6"/>
<text x="441" y="103.5" font-size="8" fill="#2a2a2a" textLength="22.8" lengthAdjust="spacingAndGlyphs">normal</text>
<path d="M419.2,114.65 H436.5" fill="none" stroke="#213660" stroke-width="1.6" stroke-dasharray="4.2,2.2"/>
<text x="441" y="116.65" font-size="8" fill="#2a2a2a" textLength="43.8" lengthAdjust="spacingAndGlyphs">BRIC14 (Wr</text>
<text x="484.9" y="113.55" font-size="5.6" fill="#2a2a2a">b</text>
<text x="488" y="116.65" font-size="8" fill="#2a2a2a">)</text>
<path d="M419.2,127.8 H436.5" fill="none" stroke="#213660" stroke-width="1.3" stroke-dasharray="1.2,2.3"/>
<text x="441" y="129.8" font-size="8" fill="#2a2a2a" textLength="49.2" lengthAdjust="spacingAndGlyphs">BIRM84b (Wr</text>
<text x="490.3" y="126.7" font-size="5.6" fill="#2a2a2a">b</text>
<text x="493.4" y="129.8" font-size="8" fill="#2a2a2a">)</text>
<path d="M419.2,140.95 H436.5" fill="none" stroke="#213660" stroke-width="1.5" stroke-dasharray="3.6,1.8,1.2,1.8"/>
<text x="441" y="142.95" font-size="8" fill="#2a2a2a" textLength="33.6" lengthAdjust="spacingAndGlyphs">BRIC200</text>
<text x="7.7" y="203.2" font-size="12.2" font-weight="bold" fill="#000" stroke="#000" stroke-width="0.35">C</text>
<text x="152.6" y="203.6" font-size="9.2" text-anchor="middle" font-weight="bold" fill="#5d9a3f" textLength="19.2" lengthAdjust="spacingAndGlyphs">GPA</text>
<line x1="59.5" y1="209.9" x2="59.5" y2="334.2" stroke="#1a1a1a" stroke-width="1.5"/>
<line x1="58.8" y1="333.5" x2="244.8" y2="333.5" stroke="#1a1a1a" stroke-width="1.5"/>
<line x1="55.9" y1="333.5" x2="59.5" y2="333.5" stroke="#1a1a1a" stroke-width="1.2"/>
<text x="52.4" y="336.45" font-size="8.2" text-anchor="end" fill="#1e1e1e">0.0</text>
<line x1="55.9" y1="293.37" x2="59.5" y2="293.37" stroke="#1a1a1a" stroke-width="1.2"/>
<text x="52.4" y="296.32" font-size="8.2" text-anchor="end" fill="#1e1e1e">0.2</text>
<line x1="55.9" y1="253.23" x2="59.5" y2="253.23" stroke="#1a1a1a" stroke-width="1.2"/>
<text x="52.4" y="256.18" font-size="8.2" text-anchor="end" fill="#1e1e1e">0.4</text>
<line x1="55.9" y1="213.1" x2="59.5" y2="213.1" stroke="#1a1a1a" stroke-width="1.2"/>
<text x="52.4" y="216.05" font-size="8.2" text-anchor="end" fill="#1e1e1e">0.6</text>
<line x1="59.5" y1="333.5" x2="59.5" y2="336.1" stroke="#1a1a1a" stroke-width="1.1"/>
<text x="59.8" y="347.8" font-size="8.3" text-anchor="middle" fill="#1e1e1e">0</text>
<line x1="105.1" y1="333.5" x2="105.1" y2="336.1" stroke="#1a1a1a" stroke-width="1.1"/>
<text x="105.4" y="347.8" font-size="8.3" text-anchor="middle" fill="#1e1e1e">5</text>
<line x1="150.7" y1="333.5" x2="150.7" y2="336.1" stroke="#1a1a1a" stroke-width="1.1"/>
<text x="151" y="347.8" font-size="8.3" text-anchor="middle" fill="#1e1e1e">10</text>
<line x1="196.3" y1="333.5" x2="196.3" y2="336.1" stroke="#1a1a1a" stroke-width="1.1"/>
<text x="196.6" y="347.8" font-size="8.3" text-anchor="middle" fill="#1e1e1e">15</text>
<line x1="241.9" y1="333.5" x2="241.9" y2="336.1" stroke="#1a1a1a" stroke-width="1.1"/>
<text x="242.2" y="347.8" font-size="8.3" text-anchor="middle" fill="#1e1e1e">20</text>
<text x="134.9" y="362.2" font-size="10.1" stroke="#222" stroke-width="0.3" fill="#222" textLength="34.2" lengthAdjust="spacingAndGlyphs">Shear (Pa)</text>
<text transform="translate(34.7,297.8) rotate(-90)" font-size="10" stroke="#222" stroke-width="0.3" fill="#222" textLength="52" lengthAdjust="spacingAndGlyphs">Elongation index</text>
<path d="M66,310.49 C66.25,309.47 67,306.27 67.5,304.38 C68,302.49 68.5,300.76 69,299.12 C69.5,297.49 70,296.01 70.5,294.59 C71,293.18 71.5,291.88 72,290.64 C72.5,289.4 73,288.25 73.5,287.15 C74,286.05 74.5,285.03 75,284.05 C75.5,283.06 76,282.14 76.5,281.25 C77,280.37 77.5,279.53 78,278.72 C78.5,277.92 79,277.15 79.5,276.41 C80,275.68 80.5,274.97 81,274.29 C81.5,273.62 82,272.97 82.5,272.34 C83,271.71 83.5,271.11 84,270.53 C84.5,269.95 85,269.39 85.5,268.84 C86,268.3 86.5,267.78 87,267.27 C87.5,266.76 88,266.27 88.5,265.8 C89,265.32 89.5,264.86 90,264.41 C90.5,263.97 91,263.53 91.5,263.11 C92,262.69 92.5,262.28 93,261.88 C93.5,261.48 94,261.1 94.5,260.72 C95,260.34 95.5,259.97 96,259.61 C96.5,259.26 97,258.91 97.5,258.57 C98,258.22 98.5,257.89 99,257.57 C99.5,257.24 100,256.93 100.5,256.62 C101,256.31 101.5,256.01 102,255.71 C102.5,255.42 103,255.13 103.5,254.84 C104,254.56 104.5,254.29 105,254.01 C105.5,253.74 106,253.48 106.5,253.22 C107,252.96 107.5,252.71 108,252.46 C108.5,252.21 109,251.96 109.5,251.73 C110,251.49 110.5,251.25 111,251.02 C111.5,250.79 112,250.57 112.5,250.35 C113,250.12 113.5,249.91 114,249.69 C114.5,249.48 115,249.27 115.5,249.07 C116,248.86 116.5,248.66 117,248.46 C117.5,248.26 118,248.07 118.5,247.87 C119,247.68 119.5,247.49 120,247.31 C120.5,247.12 121,246.94 121.5,246.76 C122,246.58 122.5,246.41 123,246.23 C123.5,246.06 124,245.89 124.5,245.72 C125,245.56 125.5,245.39 126,245.23 C126.5,245.07 127,244.91 127.5,244.75 C128,244.59 128.5,244.44 129,244.28 C129.5,244.13 130,243.98 130.5,243.83 C131,243.68 131.5,243.54 132,243.39 C132.5,243.25 133,243.11 133.5,242.97 C134,242.83 134.5,242.69 135,242.55 C135.5,242.42 136,242.28 136.5,242.15 C137,242.02 137.5,241.89 138,241.76 C138.5,241.63 139,241.51 139.5,241.38 C140,241.26 140.5,241.13 141,241.01 C141.5,240.89 142,240.77 142.5,240.65 C143,240.53 143.5,240.42 144,240.3 C144.5,240.18 145,240.07 145.5,239.96 C146,239.85 146.5,239.73 147,239.63 C147.5,239.52 148,239.41 148.5,239.3 C149,239.19 149.5,239.09 150,238.98 C150.5,238.88 151,238.78 151.5,238.67 C152,238.57 152.5,238.47 153,238.37 C153.5,238.27 154,238.18 154.5,238.08 C155,237.98 155.5,237.89 156,237.79 C156.5,237.7 157,237.6 157.5,237.51 C158,237.42 158.5,237.33 159,237.24 C159.5,237.15 160,237.06 160.5,236.97 C161,236.88 161.5,236.79 162,236.71 C162.5,236.62 163,236.54 163.5,236.45 C164,236.37 164.5,236.28 165,236.2 C165.5,236.12 166,236.04 166.5,235.96 C167,235.88 167.5,235.8 168,235.72 C168.5,235.64 169,235.56 169.5,235.48 C170,235.4 170.5,235.33 171,235.25 C171.5,235.18 172,235.1 172.5,235.03 C173,234.95 173.5,234.88 174,234.81 C174.5,234.74 175,234.66 175.5,234.59 C176,234.52 176.5,234.45 177,234.38 C177.5,234.31 178,234.24 178.5,234.17 C179,234.11 179.5,234.04 180,233.97 C180.5,233.91 181,233.84 181.5,233.77 C182,233.71 182.5,233.64 183,233.58 C183.5,233.51 184,233.45 184.5,233.39 C185,233.33 185.5,233.26 186,233.2 C186.5,233.14 187,233.08 187.5,233.02 C188,232.96 188.5,232.9 189,232.84 C189.5,232.78 190,232.72 190.5,232.66 C191,232.6 191.5,232.55 192,232.49 C192.5,232.43 193,232.37 193.5,232.32 C194,232.26 194.5,232.21 195,232.15 C195.5,232.1 196,232.04 196.5,231.99 C197,231.93 197.5,231.88 198,231.83 C198.5,231.77 199,231.72 199.5,231.67 C200,231.62 200.5,231.57 201,231.51 C201.5,231.46 202,231.41 202.5,231.36 C203,231.31 203.5,231.26 204,231.21 C204.5,231.16 205,231.11 205.5,231.07 C206,231.02 206.5,230.97 207,230.92 C207.5,230.87 208,230.83 208.5,230.78 C209,230.73 209.5,230.69 210,230.64 C210.5,230.6 211,230.55 211.5,230.5 C212,230.46 212.5,230.41 213,230.37 C213.5,230.33 214,230.28 214.5,230.24 C215,230.19 215.5,230.15 216,230.11 C216.5,230.07 217,230.02 217.5,229.98 C218,229.94 218.5,229.9 219,229.86 C219.5,229.81 220,229.77 220.5,229.73 C221,229.69 221.5,229.65 222,229.61 C222.5,229.57 223.2,229.52 223.5,229.49 C223.8,229.47 223.75,229.47 223.8,229.47" fill="none" stroke="#548a3a" stroke-width="1.8" stroke-linecap="round"/>
<path d="M68,316 C68.25,315.19 69,312.64 69.5,311.17 C70,309.7 70.5,308.42 71,307.19 C71.5,305.96 72,304.84 72.5,303.77 C73,302.71 73.5,301.72 74,300.78 C74.5,299.83 75,298.95 75.5,298.1 C76,297.26 76.5,296.46 77,295.69 C77.5,294.92 78,294.19 78.5,293.48 C79,292.78 79.5,292.1 80,291.45 C80.5,290.8 81,290.18 81.5,289.57 C82,288.97 82.5,288.39 83,287.82 C83.5,287.26 84,286.72 84.5,286.19 C85,285.66 85.5,285.15 86,284.65 C86.5,284.15 87,283.67 87.5,283.2 C88,282.73 88.5,282.27 89,281.83 C89.5,281.38 90,280.95 90.5,280.53 C91,280.11 91.5,279.7 92,279.29 C92.5,278.89 93,278.5 93.5,278.12 C94,277.73 94.5,277.36 95,276.99 C95.5,276.63 96,276.27 96.5,275.92 C97,275.57 97.5,275.23 98,274.89 C98.5,274.55 99,274.23 99.5,273.9 C100,273.58 100.5,273.26 101,272.95 C101.5,272.64 102,272.34 102.5,272.04 C103,271.74 103.5,271.45 104,271.16 C104.5,270.87 105,270.59 105.5,270.31 C106,270.04 106.5,269.76 107,269.5 C107.5,269.23 108,268.96 108.5,268.71 C109,268.45 109.5,268.19 110,267.94 C110.5,267.69 111,267.44 111.5,267.2 C112,266.96 112.5,266.72 113,266.48 C113.5,266.25 114,266.02 114.5,265.79 C115,265.56 115.5,265.33 116,265.11 C116.5,264.89 117,264.67 117.5,264.46 C118,264.24 118.5,264.03 119,263.82 C119.5,263.61 120,263.41 120.5,263.2 C121,263 121.5,262.8 122,262.6 C122.5,262.4 123,262.21 123.5,262.01 C124,261.82 124.5,261.63 125,261.44 C125.5,261.26 126,261.07 126.5,260.89 C127,260.71 127.5,260.52 128,260.35 C128.5,260.17 129,259.99 129.5,259.82 C130,259.64 130.5,259.47 131,259.3 C131.5,259.13 132,258.97 132.5,258.8 C133,258.63 133.5,258.47 134,258.31 C134.5,258.15 135,257.99 135.5,257.83 C136,257.67 136.5,257.51 137,257.36 C137.5,257.2 138,257.05 138.5,256.9 C139,256.75 139.5,256.6 140,256.45 C140.5,256.3 141,256.16 141.5,256.01 C142,255.87 142.5,255.73 143,255.58 C143.5,255.44 144,255.3 144.5,255.16 C145,255.03 145.5,254.89 146,254.75 C146.5,254.62 147,254.48 147.5,254.35 C148,254.22 148.5,254.09 149,253.96 C149.5,253.82 150,253.7 150.5,253.57 C151,253.44 151.5,253.31 152,253.19 C152.5,253.06 153,252.94 153.5,252.82 C154,252.69 154.5,252.57 155,252.45 C155.5,252.33 156,252.21 156.5,252.1 C157,251.98 157.5,251.86 158,251.74 C158.5,251.63 159,251.51 159.5,251.4 C160,251.29 160.5,251.17 161,251.06 C161.5,250.95 162,250.84 162.5,250.73 C163,250.62 163.5,250.51 164,250.4 C164.5,250.3 165,250.19 165.5,250.08 C166,249.98 166.5,249.87 167,249.77 C167.5,249.67 168,249.56 168.5,249.46 C169,249.36 169.5,249.26 170,249.16 C170.5,249.06 171,248.96 171.5,248.86 C172,248.76 172.5,248.66 173,248.57 C173.5,248.47 174,248.37 174.5,248.28 C175,248.18 175.5,248.09 176,247.99 C176.5,247.9 177,247.81 177.5,247.71 C178,247.62 178.5,247.53 179,247.44 C179.5,247.35 180,247.26 180.5,247.17 C181,247.08 181.5,246.99 182,246.9 C182.5,246.82 183,246.73 183.5,246.64 C184,246.56 184.5,246.47 185,246.39 C185.5,246.3 186,246.22 186.5,246.13 C187,246.05 187.5,245.97 188,245.88 C188.5,245.8 189,245.72 189.5,245.64 C190,245.56 190.5,245.48 191,245.4 C191.5,245.32 192,245.24 192.5,245.16 C193,245.08 193.5,245 194,244.92 C194.5,244.85 195,244.77 195.5,244.69 C196,244.62 196.5,244.54 197,244.46 C197.5,244.39 198,244.31 198.5,244.24 C199,244.17 199.5,244.09 200,244.02 C200.5,243.95 201,243.87 201.5,243.8 C202,243.73 202.5,243.66 203,243.59 C203.5,243.52 204,243.45 204.5,243.38 C205,243.31 205.5,243.24 206,243.17 C206.5,243.1 207,243.03 207.5,242.96 C208,242.89 208.5,242.83 209,242.76 C209.5,242.69 210,242.62 210.5,242.56 C211,242.49 211.5,242.43 212,242.36 C212.5,242.3 213,242.23 213.5,242.17 C214,242.1 214.5,242.04 215,241.98 C215.5,241.91 216,241.85 216.5,241.79 C217,241.72 217.5,241.66 218,241.6 C218.5,241.54 219,241.48 219.5,241.41 C220,241.35 220.5,241.29 221,241.23 C221.5,241.17 222.25,241.08 222.5,241.05" fill="none" stroke="#548a3a" stroke-width="1.8" stroke-dasharray="4,2.2"/>
<path d="M67.7,333.29 C67.95,332.69 68.7,330.7 69.2,329.71 C69.7,328.72 70.2,328.05 70.7,327.33 C71.2,326.61 71.7,326 72.2,325.39 C72.7,324.78 73.2,324.21 73.7,323.66 C74.2,323.1 74.7,322.56 75.2,322.03 C75.7,321.5 76.2,320.99 76.7,320.48 C77.2,319.98 77.7,319.48 78.2,318.99 C78.7,318.5 79.2,318.01 79.7,317.54 C80.2,317.06 80.7,316.59 81.2,316.13 C81.7,315.66 82.2,315.21 82.7,314.75 C83.2,314.3 83.7,313.86 84.2,313.42 C84.7,312.98 85.2,312.54 85.7,312.12 C86.2,311.69 86.7,311.27 87.2,310.85 C87.7,310.43 88.2,310.02 88.7,309.61 C89.2,309.21 89.7,308.81 90.2,308.41 C90.7,308.01 91.2,307.62 91.7,307.24 C92.2,306.85 92.7,306.47 93.2,306.09 C93.7,305.72 94.2,305.34 94.7,304.98 C95.2,304.61 95.7,304.25 96.2,303.89 C96.7,303.53 97.2,303.18 97.7,302.83 C98.2,302.48 98.7,302.14 99.2,301.8 C99.7,301.46 100.2,301.12 100.7,300.79 C101.2,300.46 101.7,300.13 102.2,299.8 C102.7,299.48 103.2,299.16 103.7,298.84 C104.2,298.53 104.7,298.21 105.2,297.9 C105.7,297.6 106.2,297.29 106.7,296.99 C107.2,296.69 107.7,296.39 108.2,296.09 C108.7,295.8 109.2,295.51 109.7,295.22 C110.2,294.93 110.7,294.65 111.2,294.36 C111.7,294.08 112.2,293.81 112.7,293.53 C113.2,293.25 113.7,292.98 114.2,292.71 C114.7,292.44 115.2,292.18 115.7,291.92 C116.2,291.65 116.7,291.39 117.2,291.13 C117.7,290.88 118.2,290.62 118.7,290.37 C119.2,290.12 119.7,289.87 120.2,289.62 C120.7,289.38 121.2,289.13 121.7,288.89 C122.2,288.65 122.7,288.41 123.2,288.18 C123.7,287.94 124.2,287.71 124.7,287.48 C125.2,287.25 125.7,287.02 126.2,286.79 C126.7,286.56 127.2,286.34 127.7,286.12 C128.2,285.9 128.7,285.68 129.2,285.46 C129.7,285.24 130.2,285.03 130.7,284.82 C131.2,284.6 131.7,284.39 132.2,284.18 C132.7,283.98 133.2,283.77 133.7,283.57 C134.2,283.36 134.7,283.16 135.2,282.96 C135.7,282.76 136.2,282.56 136.7,282.36 C137.2,282.17 137.7,281.97 138.2,281.78 C138.7,281.59 139.2,281.4 139.7,281.21 C140.2,281.02 140.7,280.83 141.2,280.65 C141.7,280.46 142.2,280.28 142.7,280.1 C143.2,279.92 143.7,279.74 144.2,279.56 C144.7,279.38 145.2,279.21 145.7,279.03 C146.2,278.86 146.7,278.68 147.2,278.51 C147.7,278.34 148.2,278.17 148.7,278 C149.2,277.83 149.7,277.67 150.2,277.5 C150.7,277.34 151.2,277.17 151.7,277.01 C152.2,276.85 152.7,276.69 153.2,276.53 C153.7,276.37 154.2,276.21 154.7,276.06 C155.2,275.9 155.7,275.75 156.2,275.59 C156.7,275.44 157.2,275.29 157.7,275.14 C158.2,274.99 158.7,274.84 159.2,274.69 C159.7,274.54 160.2,274.4 160.7,274.25 C161.2,274.11 161.7,273.96 162.2,273.82 C162.7,273.68 163.2,273.54 163.7,273.4 C164.2,273.26 164.7,273.12 165.2,272.98 C165.7,272.84 166.2,272.71 166.7,272.57 C167.2,272.44 167.7,272.3 168.2,272.17 C168.7,272.04 169.2,271.91 169.7,271.78 C170.2,271.65 170.7,271.52 171.2,271.39 C171.7,271.26 172.2,271.14 172.7,271.01 C173.2,270.88 173.7,270.76 174.2,270.64 C174.7,270.51 175.2,270.39 175.7,270.27 C176.2,270.15 176.7,270.03 177.2,269.91 C177.7,269.79 178.2,269.67 178.7,269.55 C179.2,269.43 179.7,269.32 180.2,269.2 C180.7,269.09 181.2,268.97 181.7,268.86 C182.2,268.75 182.7,268.63 183.2,268.52 C183.7,268.41 184.2,268.3 184.7,268.19 C185.2,268.08 185.7,267.97 186.2,267.87 C186.7,267.76 187.2,267.65 187.7,267.55 C188.2,267.44 188.7,267.33 189.2,267.23 C189.7,267.13 190.2,267.02 190.7,266.92 C191.2,266.82 191.7,266.72 192.2,266.62 C192.7,266.52 193.2,266.42 193.7,266.32 C194.2,266.22 194.7,266.12 195.2,266.02 C195.7,265.93 196.2,265.83 196.7,265.73 C197.2,265.64 197.7,265.54 198.2,265.45 C198.7,265.36 199.2,265.26 199.7,265.17 C200.2,265.08 200.7,264.99 201.2,264.9 C201.7,264.81 202.2,264.72 202.7,264.63 C203.2,264.54 203.7,264.45 204.2,264.36 C204.7,264.27 205.2,264.19 205.7,264.1 C206.2,264.01 206.7,263.93 207.2,263.84 C207.7,263.76 208.2,263.67 208.7,263.59 C209.2,263.51 209.7,263.42 210.2,263.34 C210.7,263.26 211.2,263.18 211.7,263.1 C212.2,263.02 212.7,262.94 213.2,262.86 C213.7,262.78 214.2,262.7 214.7,262.62 C215.2,262.54 215.7,262.47 216.2,262.39 C216.7,262.31 217.2,262.24 217.7,262.16 C218.2,262.08 218.7,262.01 219.2,261.94 C219.7,261.86 220.2,261.79 220.7,261.72 C221.2,261.64 221.7,261.57 222.2,261.5 C222.7,261.43 223.43,261.32 223.7,261.28 C223.97,261.25 223.78,261.27 223.8,261.27" fill="none" stroke="#5a8f42" stroke-width="1.5" stroke-dasharray="1.2,1.8"/>
<path d="M187,297.2 H204.3" fill="none" stroke="#5a8448" stroke-width="1.6"/>
<text x="207.7" y="299.2" font-size="8" fill="#2a2a2a" textLength="23.1" lengthAdjust="spacingAndGlyphs">normal</text>
<path d="M187,310.35 H204.3" fill="none" stroke="#5a8448" stroke-width="1.6" stroke-dasharray="4,2"/>
<text x="207.7" y="312.35" font-size="8" fill="#2a2a2a" textLength="30" lengthAdjust="spacingAndGlyphs">YTH89.1</text>
<path d="M187,323.5 H204.3" fill="none" stroke="#5a8448" stroke-width="1.3" stroke-dasharray="1.2,2.3"/>
<text x="207.7" y="325.5" font-size="8" fill="#2a2a2a" textLength="33.8" lengthAdjust="spacingAndGlyphs">BRIC256</text>
<text x="267.3" y="202.9" font-size="12.2" font-weight="bold" fill="#000" stroke="#000" stroke-width="0.35">D</text>
<line x1="309.8" y1="196.2" x2="309.8" y2="334.5" stroke="#1a1a1a" stroke-width="1.5"/>
<line x1="309.1" y1="333.8" x2="512.2" y2="333.8" stroke="#1a1a1a" stroke-width="1.5"/>
<line x1="306.4" y1="333.8" x2="309.8" y2="333.8" stroke="#1a1a1a" stroke-width="1.2"/>
<text x="303.4" y="336" font-size="8.3" text-anchor="end" fill="#1e1e1e">1</text>
<line x1="306.4" y1="306.95" x2="309.8" y2="306.95" stroke="#1a1a1a" stroke-width="1.2"/>
<text x="303.4" y="309.15" font-size="8.3" text-anchor="end" fill="#1e1e1e">2</text>
<line x1="306.4" y1="280.1" x2="309.8" y2="280.1" stroke="#1a1a1a" stroke-width="1.2"/>
<text x="303.4" y="282.3" font-size="8.3" text-anchor="end" fill="#1e1e1e">3</text>
<line x1="306.4" y1="253.25" x2="309.8" y2="253.25" stroke="#1a1a1a" stroke-width="1.2"/>
<text x="303.4" y="255.45" font-size="8.3" text-anchor="end" fill="#1e1e1e">4</text>
<line x1="306.4" y1="226.4" x2="309.8" y2="226.4" stroke="#1a1a1a" stroke-width="1.2"/>
<text x="303.4" y="228.6" font-size="8.3" text-anchor="end" fill="#1e1e1e">5</text>
<line x1="306.4" y1="199.55" x2="309.8" y2="199.55" stroke="#1a1a1a" stroke-width="1.2"/>
<text x="303.4" y="201.75" font-size="8.3" text-anchor="end" fill="#1e1e1e">6</text>
<line x1="324.9" y1="333.8" x2="324.9" y2="336.4" stroke="#1a1a1a" stroke-width="1.1"/>
<text x="325.4" y="348.3" font-size="8.4" text-anchor="middle" fill="#1e1e1e">0</text>
<line x1="347.4" y1="333.8" x2="347.4" y2="336.4" stroke="#1a1a1a" stroke-width="1.1"/>
<text x="347.9" y="348.3" font-size="8.4" text-anchor="middle" fill="#1e1e1e">25</text>
<line x1="369.9" y1="333.8" x2="369.9" y2="336.4" stroke="#1a1a1a" stroke-width="1.1"/>
<text x="370.4" y="348.3" font-size="8.4" text-anchor="middle" fill="#1e1e1e">50</text>
<line x1="392.4" y1="333.8" x2="392.4" y2="336.4" stroke="#1a1a1a" stroke-width="1.1"/>
<text x="392.9" y="348.3" font-size="8.4" text-anchor="middle" fill="#1e1e1e">100</text>
<line x1="429.6" y1="333.8" x2="429.6" y2="336.4" stroke="#1a1a1a" stroke-width="1.1"/>
<text x="430.1" y="348.3" font-size="8.4" text-anchor="middle" fill="#1e1e1e">0</text>
<line x1="452.1" y1="333.8" x2="452.1" y2="336.4" stroke="#1a1a1a" stroke-width="1.1"/>
<text x="452.6" y="348.3" font-size="8.4" text-anchor="middle" fill="#1e1e1e">25</text>
<line x1="474.6" y1="333.8" x2="474.6" y2="336.4" stroke="#1a1a1a" stroke-width="1.1"/>
<text x="475.1" y="348.3" font-size="8.4" text-anchor="middle" fill="#1e1e1e">50</text>
<line x1="497.1" y1="333.8" x2="497.1" y2="336.4" stroke="#1a1a1a" stroke-width="1.1"/>
<text x="497.6" y="348.3" font-size="8.4" text-anchor="middle" fill="#1e1e1e">100</text>
<text x="368.7" y="362.1" font-size="9.6" stroke="#222" stroke-width="0.3" fill="#222" textLength="78.5" lengthAdjust="spacingAndGlyphs">Ligands added/RBC (x10</text>
<text x="448.1" y="357.4" font-size="5.6" stroke="#222" stroke-width="0.3" fill="#222" textLength="2.2" lengthAdjust="spacingAndGlyphs">3</text>
<text x="450.6" y="362.1" font-size="9.6" stroke="#222" stroke-width="0.3" fill="#222" textLength="2.2" lengthAdjust="spacingAndGlyphs">)</text>
<text transform="translate(292.3,274.6) rotate(-90)" font-size="9.5" stroke="#222" stroke-width="0.3" fill="#222" textLength="18.8" lengthAdjust="spacingAndGlyphs">SS1/2</text>
<line x1="410.8" y1="198" x2="410.8" y2="333" stroke="#111" stroke-width="2" stroke-dasharray="3.1,2.6"/>
<text x="360.2" y="204.4" font-size="9.3" text-anchor="middle" font-weight="bold" fill="#9a1d3e" textLength="24.2" lengthAdjust="spacingAndGlyphs">RhCE</text>
<text x="360" y="215.4" font-size="9.3" text-anchor="middle" font-weight="bold" fill="#9a1d3e" textLength="40.6" lengthAdjust="spacingAndGlyphs">(BRIC69)</text>
<text x="462.4" y="204.3" font-size="9.3" text-anchor="middle" font-weight="bold" fill="#2f4a7a" textLength="52" lengthAdjust="spacingAndGlyphs">Band3/GPA</text>
<text x="462.4" y="215.4" font-size="9.3" text-anchor="middle" font-weight="bold" fill="#2f4a7a" textLength="40.2" lengthAdjust="spacingAndGlyphs">(BRIC14)</text>
<line x1="320.6" y1="291.7" x2="396.6" y2="291.7" stroke="#222" stroke-width="1.3"/>
<line x1="320.6" y1="287" x2="320.6" y2="297.5" stroke="#222" stroke-width="1.3"/>
<line x1="396.6" y1="287" x2="396.6" y2="297.5" stroke="#222" stroke-width="1.3"/>
<text x="358.3" y="287.1" font-size="8" text-anchor="middle" fill="#2a2a2a" textLength="13.2" lengthAdjust="spacingAndGlyphs">n.s.</text>
<line x1="324.9" y1="311.8" x2="324.9" y2="320" stroke="#7c0f2c" stroke-width="1.3"/>
<line x1="321.7" y1="311.8" x2="328.1" y2="311.8" stroke="#7c0f2c" stroke-width="1.3"/>
<line x1="321.7" y1="320" x2="328.1" y2="320" stroke="#7c0f2c" stroke-width="1.3"/>
<circle cx="324.9" cy="315.8" r="3.0" fill="#a3143a"/>
<line x1="347.4" y1="312.3" x2="347.4" y2="320.5" stroke="#7c0f2c" stroke-width="1.3"/>
<line x1="344.2" y1="312.3" x2="350.6" y2="312.3" stroke="#7c0f2c" stroke-width="1.3"/>
<line x1="344.2" y1="320.5" x2="350.6" y2="320.5" stroke="#7c0f2c" stroke-width="1.3"/>
<circle cx="347.4" cy="316.3" r="3.0" fill="#a3143a"/>
<line x1="369.9" y1="311.3" x2="369.9" y2="322" stroke="#7c0f2c" stroke-width="1.3"/>
<line x1="366.7" y1="311.3" x2="373.1" y2="311.3" stroke="#7c0f2c" stroke-width="1.3"/>
<line x1="366.7" y1="322" x2="373.1" y2="322" stroke="#7c0f2c" stroke-width="1.3"/>
<circle cx="369.9" cy="316.7" r="3.0" fill="#a3143a"/>
<line x1="392.4" y1="309.5" x2="392.4" y2="319.3" stroke="#7c0f2c" stroke-width="1.3"/>
<line x1="389.2" y1="309.5" x2="395.6" y2="309.5" stroke="#7c0f2c" stroke-width="1.3"/>
<line x1="389.2" y1="319.3" x2="395.6" y2="319.3" stroke="#7c0f2c" stroke-width="1.3"/>
<circle cx="392.4" cy="314.3" r="3.0" fill="#a3143a"/>
<line x1="429.6" y1="312" x2="429.6" y2="320" stroke="#253d68" stroke-width="1.3"/>
<line x1="426.4" y1="312" x2="432.8" y2="312" stroke="#253d68" stroke-width="1.3"/>
<line x1="426.4" y1="320" x2="432.8" y2="320" stroke="#253d68" stroke-width="1.3"/>
<circle cx="429.6" cy="316.3" r="3.0" fill="#2e4a7c"/>
<line x1="452.1" y1="297.5" x2="452.1" y2="313" stroke="#253d68" stroke-width="1.3"/>
<line x1="448.9" y1="297.5" x2="455.3" y2="297.5" stroke="#253d68" stroke-width="1.3"/>
<line x1="448.9" y1="313" x2="455.3" y2="313" stroke="#253d68" stroke-width="1.3"/>
<circle cx="452.1" cy="305" r="3.0" fill="#2e4a7c"/>
<line x1="474.6" y1="284" x2="474.6" y2="297" stroke="#253d68" stroke-width="1.3"/>
<line x1="471.4" y1="284" x2="477.8" y2="284" stroke="#253d68" stroke-width="1.3"/>
<line x1="471.4" y1="297" x2="477.8" y2="297" stroke="#253d68" stroke-width="1.3"/>
<circle cx="474.6" cy="290.5" r="3.0" fill="#2e4a7c"/>
<line x1="497.1" y1="238.5" x2="497.1" y2="272" stroke="#253d68" stroke-width="1.3"/>
<line x1="493.9" y1="238.5" x2="500.3" y2="238.5" stroke="#253d68" stroke-width="1.3"/>
<line x1="493.9" y1="272" x2="500.3" y2="272" stroke="#253d68" stroke-width="1.3"/>
<circle cx="497.1" cy="255.3" r="3.0" fill="#2e4a7c"/>
<text x="452.1" y="296.5" font-size="9.5" text-anchor="middle" fill="#222">*</text>
<text x="474.6" y="284.1" font-size="9.5" text-anchor="middle" fill="#222">*</text>
<text x="497.1" y="238.2" font-size="9.5" text-anchor="middle" fill="#222">*</text>
<text x="7.4" y="376.6" font-size="12.2" font-weight="bold" fill="#000" stroke="#000" stroke-width="0.35">E</text>
<line x1="59.6" y1="382.8" x2="59.6" y2="519.8" stroke="#1a1a1a" stroke-width="1.5"/>
<line x1="58.9" y1="519.1" x2="259.8" y2="519.1" stroke="#1a1a1a" stroke-width="1.5"/>
<line x1="56.2" y1="519.1" x2="59.6" y2="519.1" stroke="#1a1a1a" stroke-width="1.2"/>
<text x="53" y="522" font-size="8.3" text-anchor="end" fill="#1e1e1e">0</text>
<line x1="56.2" y1="492.42" x2="59.6" y2="492.42" stroke="#1a1a1a" stroke-width="1.2"/>
<text x="53" y="495.22" font-size="8" text-anchor="end" fill="#1e1e1e" textLength="30.3" lengthAdjust="spacingAndGlyphs">100000</text>
<line x1="56.2" y1="465.74" x2="59.6" y2="465.74" stroke="#1a1a1a" stroke-width="1.2"/>
<text x="53" y="468.54" font-size="8" text-anchor="end" fill="#1e1e1e" textLength="30.3" lengthAdjust="spacingAndGlyphs">200000</text>
<line x1="56.2" y1="439.06" x2="59.6" y2="439.06" stroke="#1a1a1a" stroke-width="1.2"/>
<text x="53" y="441.86" font-size="8" text-anchor="end" fill="#1e1e1e" textLength="30.3" lengthAdjust="spacingAndGlyphs">300000</text>
<line x1="56.2" y1="412.38" x2="59.6" y2="412.38" stroke="#1a1a1a" stroke-width="1.2"/>
<text x="53" y="415.18" font-size="8" text-anchor="end" fill="#1e1e1e" textLength="30.3" lengthAdjust="spacingAndGlyphs">400000</text>
<line x1="56.2" y1="385.7" x2="59.6" y2="385.7" stroke="#1a1a1a" stroke-width="1.2"/>
<text x="53" y="388.5" font-size="8" text-anchor="end" fill="#1e1e1e" textLength="30.3" lengthAdjust="spacingAndGlyphs">500000</text>
<line x1="82.6" y1="519.1" x2="82.6" y2="521.7" stroke="#1a1a1a" stroke-width="1.1"/>
<text x="83" y="533.6" font-size="8.4" text-anchor="middle" fill="#1e1e1e">0</text>
<line x1="133.7" y1="519.1" x2="133.7" y2="521.7" stroke="#1a1a1a" stroke-width="1.1"/>
<text x="134.1" y="533.6" font-size="8.4" text-anchor="middle" fill="#1e1e1e">25</text>
<line x1="184.8" y1="519.1" x2="184.8" y2="521.7" stroke="#1a1a1a" stroke-width="1.1"/>
<text x="185.2" y="533.6" font-size="8.4" text-anchor="middle" fill="#1e1e1e">50</text>
<line x1="235.9" y1="519.1" x2="235.9" y2="521.7" stroke="#1a1a1a" stroke-width="1.1"/>
<text x="236.3" y="533.6" font-size="8.4" text-anchor="middle" fill="#1e1e1e">100</text>
<text x="117.3" y="547.3" font-size="9.6" stroke="#222" stroke-width="0.3" fill="#222" textLength="78.5" lengthAdjust="spacingAndGlyphs">Ligands added/RBC (x10</text>
<text x="196.7" y="542.6" font-size="5.6" stroke="#222" stroke-width="0.3" fill="#222" textLength="2.2" lengthAdjust="spacingAndGlyphs">3</text>
<text x="199.2" y="547.3" font-size="9.6" stroke="#222" stroke-width="0.3" fill="#222" textLength="2.2" lengthAdjust="spacingAndGlyphs">)</text>
<text transform="translate(16.4,469.2) rotate(-90)" font-size="9.5" stroke="#222" stroke-width="0.3" fill="#222" textLength="35.4" lengthAdjust="spacingAndGlyphs">Median FL1</text>
<rect x="117.8" y="501.5" width="12.2" height="17.1" fill="#ab0330"/>
<rect x="137.2" y="502.5" width="12.2" height="16.1" fill="#2f4e84"/>
<line x1="123.9" y1="493.2" x2="123.9" y2="501.5" stroke="#ab0330" stroke-width="1.3"/>
<line x1="120.5" y1="493.2" x2="127.3" y2="493.2" stroke="#ab0330" stroke-width="1.3"/>
<line x1="143.3" y1="497.5" x2="143.3" y2="502.5" stroke="#2f4e84" stroke-width="1.3"/>
<line x1="139.9" y1="497.5" x2="146.7" y2="497.5" stroke="#2f4e84" stroke-width="1.3"/>
<line x1="121.7" y1="483" x2="147.3" y2="483" stroke="#222" stroke-width="1.3"/>
<line x1="121.7" y1="477.4" x2="121.7" y2="488.6" stroke="#222" stroke-width="1.3"/>
<line x1="147.3" y1="477.4" x2="147.3" y2="488.6" stroke="#222" stroke-width="1.3"/>
<text x="134.9" y="478.1" font-size="8" text-anchor="middle" fill="#2a2a2a" textLength="13.2" lengthAdjust="spacingAndGlyphs">n.s.</text>
<rect x="168.9" y="479" width="12.2" height="39.6" fill="#ab0330"/>
<rect x="188.3" y="480" width="12.2" height="38.6" fill="#2f4e84"/>
<line x1="175" y1="472.3" x2="175" y2="479" stroke="#ab0330" stroke-width="1.3"/>
<line x1="171.6" y1="472.3" x2="178.4" y2="472.3" stroke="#ab0330" stroke-width="1.3"/>
<line x1="194.4" y1="463.7" x2="194.4" y2="480" stroke="#2f4e84" stroke-width="1.3"/>
<line x1="191" y1="463.7" x2="197.8" y2="463.7" stroke="#2f4e84" stroke-width="1.3"/>
<line x1="172.8" y1="454.5" x2="198.4" y2="454.5" stroke="#222" stroke-width="1.3"/>
<line x1="172.8" y1="448.9" x2="172.8" y2="460.1" stroke="#222" stroke-width="1.3"/>
<line x1="198.4" y1="448.9" x2="198.4" y2="460.1" stroke="#222" stroke-width="1.3"/>
<text x="186" y="449.6" font-size="8" text-anchor="middle" fill="#2a2a2a" textLength="13.2" lengthAdjust="spacingAndGlyphs">n.s.</text>
<rect x="220" y="445.3" width="12.2" height="73.3" fill="#ab0330"/>
<rect x="239.4" y="430.2" width="12.2" height="88.4" fill="#2f4e84"/>
<line x1="226.1" y1="432.4" x2="226.1" y2="445.3" stroke="#ab0330" stroke-width="1.3"/>
<line x1="222.7" y1="432.4" x2="229.5" y2="432.4" stroke="#ab0330" stroke-width="1.3"/>
<line x1="245.5" y1="417.6" x2="245.5" y2="430.2" stroke="#2f4e84" stroke-width="1.3"/>
<line x1="242.1" y1="417.6" x2="248.9" y2="417.6" stroke="#2f4e84" stroke-width="1.3"/>
<line x1="223.9" y1="408.7" x2="249.5" y2="408.7" stroke="#222" stroke-width="1.3"/>
<line x1="223.9" y1="403.1" x2="223.9" y2="414.3" stroke="#222" stroke-width="1.3"/>
<line x1="249.5" y1="403.1" x2="249.5" y2="414.3" stroke="#222" stroke-width="1.3"/>
<text x="237.1" y="403.8" font-size="8" text-anchor="middle" fill="#2a2a2a" textLength="13.2" lengthAdjust="spacingAndGlyphs">n.s.</text>
<rect x="68" y="394.2" width="14" height="6.4" fill="#2f4e84"/>
<rect x="68" y="407.4" width="14" height="6.4" fill="#ab0330"/>
<text x="85.8" y="400.4" font-size="8.1" fill="#2a2a2a" textLength="79.3" lengthAdjust="spacingAndGlyphs">Band3/GPA (BRIC14)</text>
<text x="85.8" y="412.6" font-size="8.1" fill="#2a2a2a" textLength="56.8" lengthAdjust="spacingAndGlyphs">RhCE (BRIC69)</text>
<text x="267.3" y="376.6" font-size="12.2" font-weight="bold" fill="#000" stroke="#000" stroke-width="0.35">F</text>
<text x="402.5" y="392" font-size="8.6" text-anchor="middle" font-weight="bold" fill="#111" textLength="122.5" lengthAdjust="spacingAndGlyphs">100,000 ligands added/RBC</text>
<line x1="309.8" y1="397.6" x2="309.8" y2="520.1" stroke="#1a1a1a" stroke-width="1.4"/>
<line x1="309.1" y1="519.4" x2="494.7" y2="519.4" stroke="#1a1a1a" stroke-width="1.4"/>
<line x1="306.2" y1="519.4" x2="309.8" y2="519.4" stroke="#1a1a1a" stroke-width="1.1"/>
<text x="302.7" y="522.4" font-size="8.3" text-anchor="end" fill="#1e1e1e">0</text>
<line x1="308.1" y1="511.92" x2="309.8" y2="511.92" stroke="#1a1a1a" stroke-width="0.9"/>
<line x1="308.1" y1="504.45" x2="309.8" y2="504.45" stroke="#1a1a1a" stroke-width="0.9"/>
<line x1="308.1" y1="496.97" x2="309.8" y2="496.97" stroke="#1a1a1a" stroke-width="0.9"/>
<line x1="306.2" y1="489.5" x2="309.8" y2="489.5" stroke="#1a1a1a" stroke-width="1.1"/>
<text x="302.7" y="492.5" font-size="8.3" text-anchor="end" fill="#1e1e1e">12</text>
<line x1="308.1" y1="482.02" x2="309.8" y2="482.02" stroke="#1a1a1a" stroke-width="0.9"/>
<line x1="308.1" y1="474.55" x2="309.8" y2="474.55" stroke="#1a1a1a" stroke-width="0.9"/>
<line x1="308.1" y1="467.07" x2="309.8" y2="467.07" stroke="#1a1a1a" stroke-width="0.9"/>
<line x1="306.2" y1="459.6" x2="309.8" y2="459.6" stroke="#1a1a1a" stroke-width="1.1"/>
<text x="302.7" y="462.6" font-size="8.3" text-anchor="end" fill="#1e1e1e">25</text>
<line x1="308.1" y1="452.12" x2="309.8" y2="452.12" stroke="#1a1a1a" stroke-width="0.9"/>
<line x1="308.1" y1="444.65" x2="309.8" y2="444.65" stroke="#1a1a1a" stroke-width="0.9"/>
<line x1="308.1" y1="437.17" x2="309.8" y2="437.17" stroke="#1a1a1a" stroke-width="0.9"/>
<line x1="306.2" y1="429.7" x2="309.8" y2="429.7" stroke="#1a1a1a" stroke-width="1.1"/>
<text x="302.7" y="432.7" font-size="8.3" text-anchor="end" fill="#1e1e1e">37</text>
<line x1="308.1" y1="422.22" x2="309.8" y2="422.22" stroke="#1a1a1a" stroke-width="0.9"/>
<line x1="308.1" y1="414.75" x2="309.8" y2="414.75" stroke="#1a1a1a" stroke-width="0.9"/>
<line x1="308.1" y1="407.27" x2="309.8" y2="407.27" stroke="#1a1a1a" stroke-width="0.9"/>
<line x1="306.2" y1="399.8" x2="309.8" y2="399.8" stroke="#1a1a1a" stroke-width="1.1"/>
<text x="302.7" y="402.8" font-size="8.3" text-anchor="end" fill="#1e1e1e">49</text>
<line x1="331.4" y1="519.4" x2="331.4" y2="522" stroke="#1a1a1a" stroke-width="1"/>
<text x="329.7" y="533.3" font-size="7.4" text-anchor="middle" fill="#1e1e1e">10</text>
<text x="336.2" y="528.6" font-size="5.3" text-anchor="middle" fill="#1e1e1e">2</text>
<line x1="358.1" y1="519.4" x2="358.1" y2="522" stroke="#1a1a1a" stroke-width="1"/>
<text x="356.4" y="533.3" font-size="7.4" text-anchor="middle" fill="#1e1e1e">10</text>
<text x="362.9" y="528.6" font-size="5.3" text-anchor="middle" fill="#1e1e1e">3</text>
<line x1="384.8" y1="519.4" x2="384.8" y2="522" stroke="#1a1a1a" stroke-width="1"/>
<text x="383.1" y="533.3" font-size="7.4" text-anchor="middle" fill="#1e1e1e">10</text>
<text x="389.6" y="528.6" font-size="5.3" text-anchor="middle" fill="#1e1e1e">4</text>
<line x1="411.5" y1="519.4" x2="411.5" y2="522" stroke="#1a1a1a" stroke-width="1"/>
<text x="409.8" y="533.3" font-size="7.4" text-anchor="middle" fill="#1e1e1e">10</text>
<text x="416.3" y="528.6" font-size="5.3" text-anchor="middle" fill="#1e1e1e">5</text>
<line x1="438.2" y1="519.4" x2="438.2" y2="522" stroke="#1a1a1a" stroke-width="1"/>
<text x="436.5" y="533.3" font-size="7.4" text-anchor="middle" fill="#1e1e1e">10</text>
<text x="443" y="528.6" font-size="5.3" text-anchor="middle" fill="#1e1e1e">6</text>
<line x1="464.9" y1="519.4" x2="464.9" y2="522" stroke="#1a1a1a" stroke-width="1"/>
<text x="463.2" y="533.3" font-size="7.4" text-anchor="middle" fill="#1e1e1e">10</text>
<text x="469.7" y="528.6" font-size="5.3" text-anchor="middle" fill="#1e1e1e">7</text>
<line x1="491.6" y1="519.4" x2="491.6" y2="522" stroke="#1a1a1a" stroke-width="1"/>
<text x="489.9" y="533.3" font-size="7.4" text-anchor="middle" fill="#1e1e1e">10</text>
<text x="496.4" y="528.6" font-size="5.3" text-anchor="middle" fill="#1e1e1e">8</text>
<line x1="312.74" y1="519.4" x2="312.74" y2="521" stroke="#1a1a1a" stroke-width="0.7"/>
<line x1="317.44" y1="519.4" x2="317.44" y2="521" stroke="#1a1a1a" stroke-width="0.7"/>
<line x1="320.78" y1="519.4" x2="320.78" y2="521" stroke="#1a1a1a" stroke-width="0.7"/>
<line x1="323.36" y1="519.4" x2="323.36" y2="521" stroke="#1a1a1a" stroke-width="0.7"/>
<line x1="325.48" y1="519.4" x2="325.48" y2="521" stroke="#1a1a1a" stroke-width="0.7"/>
<line x1="327.26" y1="519.4" x2="327.26" y2="521" stroke="#1a1a1a" stroke-width="0.7"/>
<line x1="328.81" y1="519.4" x2="328.81" y2="521" stroke="#1a1a1a" stroke-width="0.7"/>
<line x1="330.18" y1="519.4" x2="330.18" y2="521" stroke="#1a1a1a" stroke-width="0.7"/>
<line x1="339.44" y1="519.4" x2="339.44" y2="521" stroke="#1a1a1a" stroke-width="0.7"/>
<line x1="344.14" y1="519.4" x2="344.14" y2="521" stroke="#1a1a1a" stroke-width="0.7"/>
<line x1="347.48" y1="519.4" x2="347.48" y2="521" stroke="#1a1a1a" stroke-width="0.7"/>
<line x1="350.06" y1="519.4" x2="350.06" y2="521" stroke="#1a1a1a" stroke-width="0.7"/>
<line x1="352.18" y1="519.4" x2="352.18" y2="521" stroke="#1a1a1a" stroke-width="0.7"/>
<line x1="353.96" y1="519.4" x2="353.96" y2="521" stroke="#1a1a1a" stroke-width="0.7"/>
<line x1="355.51" y1="519.4" x2="355.51" y2="521" stroke="#1a1a1a" stroke-width="0.7"/>
<line x1="356.88" y1="519.4" x2="356.88" y2="521" stroke="#1a1a1a" stroke-width="0.7"/>
<line x1="366.14" y1="519.4" x2="366.14" y2="521" stroke="#1a1a1a" stroke-width="0.7"/>
<line x1="370.84" y1="519.4" x2="370.84" y2="521" stroke="#1a1a1a" stroke-width="0.7"/>
<line x1="374.18" y1="519.4" x2="374.18" y2="521" stroke="#1a1a1a" stroke-width="0.7"/>
<line x1="376.76" y1="519.4" x2="376.76" y2="521" stroke="#1a1a1a" stroke-width="0.7"/>
<line x1="378.88" y1="519.4" x2="378.88" y2="521" stroke="#1a1a1a" stroke-width="0.7"/>
<line x1="380.66" y1="519.4" x2="380.66" y2="521" stroke="#1a1a1a" stroke-width="0.7"/>
<line x1="382.21" y1="519.4" x2="382.21" y2="521" stroke="#1a1a1a" stroke-width="0.7"/>
<line x1="383.58" y1="519.4" x2="383.58" y2="521" stroke="#1a1a1a" stroke-width="0.7"/>
<line x1="392.84" y1="519.4" x2="392.84" y2="521" stroke="#1a1a1a" stroke-width="0.7"/>
<line x1="397.54" y1="519.4" x2="397.54" y2="521" stroke="#1a1a1a" stroke-width="0.7"/>
<line x1="400.88" y1="519.4" x2="400.88" y2="521" stroke="#1a1a1a" stroke-width="0.7"/>
<line x1="403.46" y1="519.4" x2="403.46" y2="521" stroke="#1a1a1a" stroke-width="0.7"/>
<line x1="405.58" y1="519.4" x2="405.58" y2="521" stroke="#1a1a1a" stroke-width="0.7"/>
<line x1="407.36" y1="519.4" x2="407.36" y2="521" stroke="#1a1a1a" stroke-width="0.7"/>
<line x1="408.91" y1="519.4" x2="408.91" y2="521" stroke="#1a1a1a" stroke-width="0.7"/>
<line x1="410.28" y1="519.4" x2="410.28" y2="521" stroke="#1a1a1a" stroke-width="0.7"/>
<line x1="419.54" y1="519.4" x2="419.54" y2="521" stroke="#1a1a1a" stroke-width="0.7"/>
<line x1="424.24" y1="519.4" x2="424.24" y2="521" stroke="#1a1a1a" stroke-width="0.7"/>
<line x1="427.58" y1="519.4" x2="427.58" y2="521" stroke="#1a1a1a" stroke-width="0.7"/>
<line x1="430.16" y1="519.4" x2="430.16" y2="521" stroke="#1a1a1a" stroke-width="0.7"/>
<line x1="432.28" y1="519.4" x2="432.28" y2="521" stroke="#1a1a1a" stroke-width="0.7"/>
<line x1="434.06" y1="519.4" x2="434.06" y2="521" stroke="#1a1a1a" stroke-width="0.7"/>
<line x1="435.61" y1="519.4" x2="435.61" y2="521" stroke="#1a1a1a" stroke-width="0.7"/>
<line x1="436.98" y1="519.4" x2="436.98" y2="521" stroke="#1a1a1a" stroke-width="0.7"/>
<line x1="446.24" y1="519.4" x2="446.24" y2="521" stroke="#1a1a1a" stroke-width="0.7"/>
<line x1="450.94" y1="519.4" x2="450.94" y2="521" stroke="#1a1a1a" stroke-width="0.7"/>
<line x1="454.28" y1="519.4" x2="454.28" y2="521" stroke="#1a1a1a" stroke-width="0.7"/>
<line x1="456.86" y1="519.4" x2="456.86" y2="521" stroke="#1a1a1a" stroke-width="0.7"/>
<line x1="458.98" y1="519.4" x2="458.98" y2="521" stroke="#1a1a1a" stroke-width="0.7"/>
<line x1="460.76" y1="519.4" x2="460.76" y2="521" stroke="#1a1a1a" stroke-width="0.7"/>
<line x1="462.31" y1="519.4" x2="462.31" y2="521" stroke="#1a1a1a" stroke-width="0.7"/>
<line x1="463.68" y1="519.4" x2="463.68" y2="521" stroke="#1a1a1a" stroke-width="0.7"/>
<line x1="472.94" y1="519.4" x2="472.94" y2="521" stroke="#1a1a1a" stroke-width="0.7"/>
<line x1="477.64" y1="519.4" x2="477.64" y2="521" stroke="#1a1a1a" stroke-width="0.7"/>
<line x1="480.98" y1="519.4" x2="480.98" y2="521" stroke="#1a1a1a" stroke-width="0.7"/>
<line x1="483.56" y1="519.4" x2="483.56" y2="521" stroke="#1a1a1a" stroke-width="0.7"/>
<line x1="485.68" y1="519.4" x2="485.68" y2="521" stroke="#1a1a1a" stroke-width="0.7"/>
<line x1="487.46" y1="519.4" x2="487.46" y2="521" stroke="#1a1a1a" stroke-width="0.7"/>
<line x1="489.01" y1="519.4" x2="489.01" y2="521" stroke="#1a1a1a" stroke-width="0.7"/>
<line x1="490.38" y1="519.4" x2="490.38" y2="521" stroke="#1a1a1a" stroke-width="0.7"/>
<text x="393.4" y="547.6" font-size="10" stroke="#222" stroke-width="0.3" fill="#222" textLength="18.1" lengthAdjust="spacingAndGlyphs">FL1-A</text>
<text transform="translate(287.2,466.9) rotate(-90)" font-size="9.5" stroke="#222" stroke-width="0.3" fill="#222" textLength="17.8" lengthAdjust="spacingAndGlyphs">Count</text>
<path d="M310.4,513.91 L310.95,502.77 L311.47,513.28 L312.02,518.24 L312.56,511.52 L313.18,519.03 L313.65,519.03 L314.27,509.13 L314.66,500.7 L315.33,508.96 L315.9,518.27 L316.28,511.58 L316.68,517.9 L317.13,519.32 L317.65,513.89 L318.28,512.44 L318.85,513.02 L319.43,514.02 L319.9,501.07 L320.58,504.48 L321.17,516.06 L321.62,516.35 L322.02,504.23 L322.52,500.67 L323.01,495.45 L323.65,519.4 L324.09,496.2 L324.61,492.67 L325.11,518.97 L325.68,500.04 L326.14,518.8 L326.62,490.35 L327.23,518.34 L327.68,518.55 L328.08,495.43 L328.51,505.17 L329.03,516.66 L329.63,516.38 L330.2,515.22 L330.71,512 L331.17,477 L331.79,499.71 L332.43,501.36 L332.93,477.78 L333.5,501.59 L334.18,494.73 L334.64,474.66 L335.12,488.39 L335.52,494.73 L336.07,487.67 L336.64,481.7 L337.15,461.03 L337.68,471.97 L338.32,484.07 L338.74,457.86 L339.37,478.83 L339.8,460.34 L340.47,477.82 L341.13,451.52 L341.69,465.79 L342.1,479.53 L342.77,469.38 L343.36,466.92 L343.99,452.68 L344.46,466.85 L345.06,469.54 L345.5,449.55 L346.14,445.79 L346.6,433.76 L347.05,467.07 L347.51,448.18 L347.9,457.76 L348.39,440.92 L348.81,447.79 L349.46,422.6 L350.04,431.53 L350.59,452.64 L350.98,457.89 L351.64,426.21 L352.31,455.19 L352.88,431.86 L353.48,439.39 L354.16,449.71 L354.7,424.47 L355.35,425.07 L355.94,423.72 L356.6,440.05 L357.18,424.13 L357.82,440.41 L358.44,430.87 L358.99,439.91 L359.49,443.57 L360.05,456.7 L360.62,443.89 L361.26,453.35 L361.76,457.03 L362.32,465.81 L362.95,476.21 L363.55,481.23 L364.11,477.6 L364.56,477.62 L365.09,482.39 L365.75,490.95 L366.13,492.34 L366.71,496.71 L367.14,490.8 L367.72,499.19 L368.37,503.27 L368.95,506.6 L369.46,503.08 L370.11,505.3 L370.61,509.42 L371.08,514.04 L371.61,510.91 L372.25,513.05 L372.91,516.25 L373.34,516.42 L373.81,517.98 L374.31,517.49 L374.84,518.34 L375.47,517.69 L375.99,519.01 L376.37,518.49 L376.77,518.84 L377.32,519.15 L377.94,519.29 L378.36,519.29 L378.74,519.34" fill="none" stroke="#000" stroke-width="0.6" stroke-opacity="0.75" stroke-linejoin="bevel"/>
<path d="M310.4,518.55 L310.79,510.3 L311.31,510.64 L311.88,506.97 L312.55,510.39 L312.99,514.57 L313.43,519.39 L313.95,509.02 L314.38,517.07 L314.86,508.36 L315.4,509.88 L316.01,514.46 L316.63,501.12 L317.03,500.6 L317.63,518.62 L318.14,509.96 L318.8,515.33 L319.35,504.01 L319.97,502.67 L320.49,509.58 L320.93,507.19 L321.55,508.54 L322.15,517.41 L322.8,495.04 L323.47,509.71 L324.09,515.04 L324.74,497.77 L325.23,518.87 L325.74,508.26 L326.35,509.85 L326.74,497.25 L327.14,496.97 L327.57,513.64 L328.18,517.89 L328.61,506.75 L329.21,490.08 L329.79,481.98 L330.32,480.49 L330.73,511.74 L331.26,501.39 L331.86,487.33 L332.4,479.17 L332.95,495.92 L333.44,476.45 L334.09,495.26 L334.73,468.36 L335.27,478.89 L335.71,478.8 L336.24,475.02 L336.62,462.31 L337.16,479.29 L337.78,472.07 L338.31,466.29 L338.71,470.29 L339.21,454.87 L339.87,476.78 L340.39,480.8 L340.9,454.46 L341.55,464.24 L342.03,473.41 L342.59,445.64 L343.01,449.31 L343.4,469.25 L343.84,449.96 L344.32,460.38 L344.89,468.46 L345.49,466.15 L346.02,459.65 L346.46,447.93 L346.97,452.29 L347.47,445.14 L347.9,456.6 L348.47,438.22 L349.01,428.74 L349.57,426.77 L350.02,429.7 L350.65,421.7 L351.12,443.78 L351.78,446.43 L352.46,415.57 L352.88,442.94 L353.48,441.94 L353.89,420.03 L354.39,422.3 L354.81,436.71 L355.4,452.51 L355.84,427.4 L356.49,419.67 L356.9,435.47 L357.51,437.05 L358.1,448.16 L358.5,451.68 L358.89,441.12 L359.42,443.53 L359.85,453.58 L360.29,443.92 L360.97,447.73 L361.37,466.14 L362.04,463.55 L362.65,469.98 L363.17,470.53 L363.68,472.79 L364.06,474.03 L364.7,486.15 L365.21,481.4 L365.71,491.65 L366.14,489.65 L366.53,487.24 L367.15,493.04 L367.79,497.52 L368.29,500.18 L368.82,498.81 L369.44,507.69 L370.09,506.21 L370.71,508.29 L371.21,509.57 L371.85,512.22 L372.46,513.32 L372.96,514.67 L373.37,516.82 L373.89,518.72 L374.37,517.5 L374.94,518.53 L375.6,518.17 L376.09,518.46 L376.64,518.85 L377.13,518.94 L377.71,519.14 L378.31,519.23 L378.7,519.34" fill="none" stroke="#000" stroke-width="0.6" stroke-opacity="0.75" stroke-linejoin="bevel"/>
<path d="M310.4,517.18 L310.9,519.24 L311.34,515.58 L311.75,517.46 L312.4,512.97 L312.93,504.27 L313.48,502.68 L314.05,506.56 L314.46,511.14 L315.07,519.26 L315.72,518.26 L316.25,518.13 L316.77,509.73 L317.17,500.3 L317.68,512.07 L318.24,515.42 L318.7,509.49 L319.25,516.87 L319.85,516.77 L320.23,517.41 L320.62,518.38 L321.23,514.68 L321.88,505 L322.27,495.97 L322.94,519.01 L323.59,512.58 L324.11,493.56 L324.57,509.63 L325.23,502.54 L325.75,491.39 L326.37,505.93 L326.79,504.72 L327.3,516.85 L327.7,507.36 L328.12,510 L328.7,508.96 L329.16,503.02 L329.66,491.93 L330.2,477.73 L330.87,491.45 L331.32,508.37 L331.97,482.06 L332.53,495.53 L332.99,483.13 L333.54,484.26 L334.11,477.07 L334.55,492.05 L335.22,468.34 L335.87,495.89 L336.27,486.18 L336.77,472.9 L337.18,474.44 L337.59,489.68 L338.17,471.39 L338.74,475.99 L339.26,480.57 L339.75,460.32 L340.38,483.03 L340.79,455.01 L341.36,454.66 L341.8,465.36 L342.26,450.53 L342.75,454.41 L343.43,464.14 L343.97,447.53 L344.63,456.8 L345.12,468.16 L345.76,467.35 L346.17,447.51 L346.69,441.66 L347.16,437.09 L347.57,457.11 L348.14,461.24 L348.62,434.59 L349.2,449.91 L349.63,445.72 L350.22,443.8 L350.64,429.12 L351.19,419.24 L351.85,416.86 L352.36,419.43 L352.84,439.27 L353.34,414.28 L353.98,442.35 L354.47,437.94 L354.96,437.06 L355.46,444.94 L356.01,423.67 L356.55,424.04 L357.1,446.75 L357.71,426.5 L358.17,453.97 L358.7,440.42 L359.25,434.1 L359.83,441.23 L360.23,448.74 L360.85,462.07 L361.25,453.09 L361.9,469.27 L362.47,471.95 L363.07,467.81 L363.53,477.68 L364.14,477.17 L364.75,483.25 L365.23,478.49 L365.81,488.05 L366.35,488.24 L366.94,489.49 L367.45,493.45 L368.03,496.56 L368.65,499.41 L369.29,501.13 L369.87,506.99 L370.46,507.33 L370.97,511.86 L371.39,510.89 L372.07,514.28 L372.5,515.87 L373.01,516.36 L373.68,518.26 L374.15,518.59 L374.72,517.45 L375.16,518.89 L375.67,518.31 L376.33,519.1 L376.74,519.07 L377.19,519.15 L377.78,519.17 L378.23,519.3 L378.69,519.36" fill="none" stroke="#000" stroke-width="0.6" stroke-opacity="0.75" stroke-linejoin="bevel"/>
<path d="M352.3,446.18 L352.8,398.58 L353.3,441.29" fill="none" stroke="#000" stroke-width="0.7" stroke-opacity="0.85"/>
<path d="M347.8,451.06 L348.3,415.67 L348.8,446.18" fill="none" stroke="#000" stroke-width="0.7" stroke-opacity="0.85"/>
<path d="M355.1,441.29 L355.6,409.56 L356.1,436.41" fill="none" stroke="#000" stroke-width="0.7" stroke-opacity="0.85"/>
<path d="M340.7,470.58 L341.2,443.73 L341.7,465.7" fill="none" stroke="#000" stroke-width="0.7" stroke-opacity="0.85"/>
<path d="M335.5,490.11 L336,464.48 L336.5,485.23" fill="none" stroke="#000" stroke-width="0.7" stroke-opacity="0.85"/>
<path d="M358.1,446.18 L358.6,425.43 L359.1,441.29" fill="none" stroke="#000" stroke-width="0.7" stroke-opacity="0.85"/>
<path d="M326.7,512.08 L327.2,484.01 L327.7,507.2" fill="none" stroke="#000" stroke-width="0.7" stroke-opacity="0.85"/>
<path d="M345,460.82 L345.5,429.09 L346,455.94" fill="none" stroke="#000" stroke-width="0.7" stroke-opacity="0.85"/>
<path d="M349.7,451.06 L350.2,412 L350.7,446.18" fill="none" stroke="#000" stroke-width="0.7" stroke-opacity="0.85"/>
<path d="M358.5,429.09 C358.75,431.12 359.42,436.62 360,441.29 C360.58,445.97 361.33,452.07 362,457.16 C362.67,462.24 363.33,466.92 364,471.8 C364.67,476.69 365.33,482.1 366,486.45 C366.67,490.8 367.33,494.46 368,497.92 C368.67,501.38 369.33,504.59 370,507.2 C370.67,509.8 371.33,511.87 372,513.54 C372.67,515.21 373.33,516.31 374,517.2 C374.67,518.1 375.67,518.63 376,518.91" fill="none" stroke="#111" stroke-width="1.4"/>
<path d="M400,519.1 L400.5,519.23 L401,518.87 L401.5,519.05 L402,519.13 L402.5,518.43 L403,518.27 L403.5,518.7 L404,518.38 L404.5,517.69 L405,517.89 L405.5,517.9 L406,517.81 L406.5,516.55 L407,516.43 L407.5,516.64 L408,516.19 L408.5,515.52 L409,515.14 L409.5,513.46 L410,513.23 L410.5,513.17 L411,512.87 L411.5,510.9 L412,509.87 L412.5,507.83 L413,506.75 L413.5,504.81 L414,503.79 L414.5,501.73 L415,499.18 L415.5,496.9 L416,492.33 L416.5,491.03 L417,488.28 L417.5,484.5 L418,485.31 L418.5,481.86 L419,479.66 L419.5,471.85 L420,471.72 L420.5,462.12 L421,455.96 L421.5,449.83 L422,449.6 L422.5,442.1 L423,431.26 L423.5,429.7 L424,418.04 L424.5,410.44 L425,396.59 L425.5,403.45 L426,404.95 L426.5,421.86 L427,436.45 L427.5,457.91 L428,469.2 L428.5,487.53 L429,489.44 L429.5,494.22 L430,495.58 L430.5,496.25 L431,498.01 L431.5,496.54 L432,499.01 L432.5,500.31 L433,502.24 L433.5,503.49 L434,504.98 L434.5,506.35 L435,508.62 L435.5,509.44 L436,511.89 L436.5,512.57 L437,513.27 L437.5,513.37 L438,514.4 L438.5,515.22 L439,516.52 L439.5,516.57 L440,516.7 L440.5,517.73 L441,517.87 L441.5,518.46 L442,519.37 L442.5,518.58 L443,518.89 L443.5,519.1 L444,519.3" fill="none" stroke="#e4482c" stroke-width="0.95"/>
<path d="M398,519.1 L398.5,519.1 L399,519.22 L399.5,519.1 L400,519.38 L400.5,519.24 L401,518.81 L401.5,519.31 L402,519.33 L402.5,518.42 L403,518.83 L403.5,517.77 L404,518.17 L404.5,517.76 L405,518.19 L405.5,517.18 L406,518.1 L406.5,517.8 L407,517.64 L407.5,516.41 L408,516.1 L408.5,516.53 L409,515.6 L409.5,514.21 L410,514.16 L410.5,514.71 L411,513.91 L411.5,513.1 L412,512.22 L412.5,510.5 L413,510.45 L413.5,506.95 L414,507.43 L414.5,505.63 L415,503.61 L415.5,501.6 L416,499.79 L416.5,498.9 L417,496.5 L417.5,493.44 L418,493.03 L418.5,487.31 L419,480.42 L419.5,473.22 L420,469.61 L420.5,465.7 L421,460.38 L421.5,460.8 L422,451.63 L422.5,445.73 L423,436.33 L423.5,438.62 L424,429.47 L424.5,422.11 L425,412.07 L425.5,407.1 L426,406.59 L426.5,410.78 L427,395.18 L427.5,400.06 L428,413.62 L428.5,428.89 L429,438.85 L429.5,453.47 L430,456.14 L430.5,455.9 L431,463.11 L431.5,462.34 L432,462.04 L432.5,469.32 L433,464.57 L433.5,469.49 L434,476.03 L434.5,479.76 L435,481.36 L435.5,481.94 L436,484.11 L436.5,489.2 L437,488.58 L437.5,494.49 L438,495.78 L438.5,499.17 L439,497.21 L439.5,502.64 L440,501.66 L440.5,505.04 L441,507 L441.5,508.24 L442,510.29 L442.5,509.79 L443,510.8 L443.5,512.27 L444,513.79 L444.5,515.75 L445,515.08 L445.5,516.74 L446,516.38 L446.5,518.03 L447,517.94 L447.5,518 L448,519.35 L448.5,518.97 L449,519.1 L449.5,519.1 L450,519.1" fill="none" stroke="#1c1cd0" stroke-width="1.3"/>
</svg>
</body></html>
